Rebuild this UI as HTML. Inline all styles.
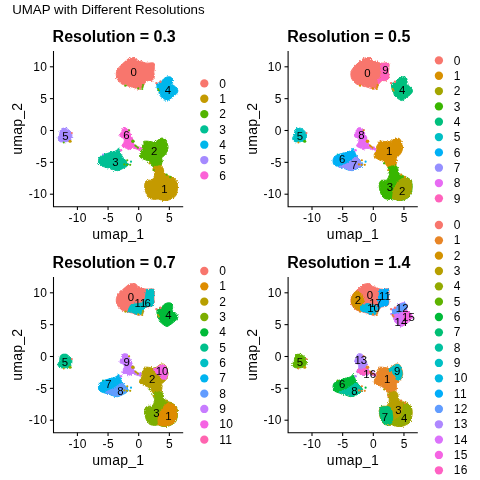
<!DOCTYPE html>
<html><head><meta charset="utf-8"><style>html,body{margin:0;padding:0;background:#fff;width:480px;height:480px;overflow:hidden}svg{display:block;will-change:transform}</style></head>
<body><svg width="480" height="480" viewBox="0 0 480 480">
<defs><filter id="rough" x="-10%" y="-10%" width="120%" height="120%"><feTurbulence type="fractalNoise" baseFrequency="1.3" numOctaves="1" seed="3" result="n"/><feDisplacementMap in="SourceGraphic" in2="n" scale="3.2" xChannelSelector="R" yChannelSelector="G"/></filter><clipPath id="c1"><path d="M350.89,73.25 C350.97,71.95 351.27,71.11 351.81,70.04 C352.34,68.97 353.26,67.83 354.10,66.83 C354.94,65.84 355.78,65.08 356.85,64.08 C357.92,63.09 359.45,61.79 360.52,60.87 C361.59,59.96 362.20,59.12 363.27,58.58 C364.33,58.05 365.79,57.79 366.93,57.67 C368.08,57.54 369.22,57.39 370.14,57.85 C371.06,58.31 371.44,59.84 372.43,60.42 C373.42,61.00 375.03,60.95 376.10,61.33 C377.17,61.71 377.78,62.40 378.85,62.71 C379.92,63.01 380.91,63.09 382.51,63.17 C384.12,63.24 387.40,62.40 388.47,63.17 C389.54,63.93 388.93,66.22 388.93,67.75 C388.93,69.28 388.47,70.96 388.47,72.33 C388.47,73.71 389.01,74.85 388.93,76.00 C388.85,77.14 388.62,78.44 388.01,79.21 C387.40,79.97 386.33,80.28 385.26,80.58 C384.19,80.89 382.59,80.58 381.60,81.04 C380.60,81.50 379.84,82.57 379.31,83.33 C378.77,84.09 378.92,84.78 378.39,85.62 C377.85,86.46 376.94,87.76 376.10,88.37 C375.26,88.98 374.26,89.29 373.35,89.29 C372.43,89.29 371.67,88.75 370.60,88.37 C369.53,87.99 368.00,87.30 366.93,87.00 C365.86,86.69 365.25,86.84 364.18,86.54 C363.11,86.23 361.74,85.55 360.52,85.16 C359.29,84.78 358.00,84.86 356.85,84.25 C355.70,83.64 354.56,82.57 353.64,81.50 C352.72,80.43 351.81,79.21 351.35,77.83 C350.89,76.46 350.82,74.55 350.89,73.25Z" stroke-width="1"/></clipPath><clipPath id="c2"><path d="M333.10,159.83 C333.24,158.65 333.66,157.75 334.35,156.92 C335.04,156.08 336.09,155.39 337.27,154.83 C338.45,154.28 340.04,154.00 341.43,153.58 C342.82,153.17 344.35,152.68 345.60,152.33 C346.85,151.99 347.89,151.92 348.93,151.50 C349.98,151.08 351.16,150.39 351.85,149.83 C352.54,149.28 352.68,148.03 353.10,148.17 C353.52,148.31 354.00,149.83 354.35,150.67 C354.70,151.50 354.84,152.33 355.18,153.17 C355.53,154.00 355.95,154.83 356.43,155.67 C356.92,156.50 357.48,157.40 358.10,158.17 C358.73,158.93 359.42,159.35 360.18,160.25 C360.95,161.15 362.34,162.68 362.68,163.58 C363.03,164.49 362.75,165.04 362.27,165.67 C361.78,166.29 360.74,166.78 359.77,167.33 C358.79,167.89 357.68,168.44 356.43,169.00 C355.18,169.56 353.52,170.46 352.27,170.67 C351.02,170.88 350.04,170.53 348.93,170.25 C347.82,169.97 346.99,169.49 345.60,169.00 C344.21,168.51 342.13,167.82 340.60,167.33 C339.07,166.85 337.61,166.64 336.43,166.08 C335.25,165.53 334.07,165.04 333.52,164.00 C332.96,162.96 332.96,161.01 333.10,159.83Z" stroke-width="1"/></clipPath><clipPath id="c3"><path d="M387.43,168.25 C387.66,167.03 389.19,166.80 390.64,166.42 C392.09,166.03 394.92,165.50 396.14,165.96 C397.36,166.42 397.59,168.02 397.97,169.17 C398.35,170.31 397.90,171.92 398.43,172.83 C398.97,173.75 400.11,174.05 401.18,174.67 C402.25,175.28 403.63,175.89 404.85,176.50 C406.07,177.11 407.44,177.57 408.51,178.33 C409.58,179.10 410.65,179.86 411.26,181.08 C411.87,182.30 412.10,183.98 412.18,185.66 C412.26,187.34 412.03,189.48 411.72,191.16 C411.42,192.84 411.19,194.52 410.35,195.75 C409.51,196.97 408.06,197.73 406.68,198.50 C405.31,199.26 403.78,200.02 402.10,200.33 C400.42,200.64 398.13,200.56 396.60,200.33 C395.07,200.10 394.15,199.11 392.93,198.96 C391.71,198.80 390.64,199.49 389.27,199.41 C387.89,199.34 385.90,199.11 384.68,198.50 C383.46,197.89 382.70,196.97 381.93,195.75 C381.17,194.52 380.56,192.84 380.10,191.16 C379.64,189.48 379.11,187.34 379.18,185.66 C379.26,183.98 379.79,182.00 380.56,181.08 C381.32,180.16 382.77,180.32 383.77,180.16 C384.76,180.01 385.75,180.62 386.52,180.16 C387.28,179.71 387.89,178.48 388.35,177.42 C388.81,176.35 389.42,175.28 389.27,173.75 C389.11,172.22 387.20,169.47 387.43,168.25Z" stroke-width="1"/></clipPath><clipPath id="c4"><path d="M116.29,299.25 C116.37,297.95 116.67,297.11 117.21,296.04 C117.74,294.97 118.66,293.83 119.50,292.83 C120.34,291.84 121.18,291.08 122.25,290.08 C123.32,289.09 124.85,287.79 125.92,286.87 C126.99,285.96 127.60,285.12 128.67,284.58 C129.73,284.05 131.19,283.79 132.33,283.67 C133.48,283.54 134.62,283.39 135.54,283.85 C136.46,284.31 136.84,285.84 137.83,286.42 C138.82,287.00 140.43,286.95 141.50,287.33 C142.57,287.71 143.18,288.40 144.25,288.71 C145.32,289.01 146.31,289.09 147.91,289.17 C149.52,289.24 152.80,288.40 153.87,289.17 C154.94,289.93 154.33,292.22 154.33,293.75 C154.33,295.28 153.87,296.96 153.87,298.33 C153.87,299.71 154.41,300.85 154.33,302.00 C154.25,303.14 154.02,304.44 153.41,305.21 C152.80,305.97 151.73,306.28 150.66,306.58 C149.59,306.89 147.99,306.58 147.00,307.04 C146.00,307.50 145.24,308.57 144.71,309.33 C144.17,310.09 144.32,310.78 143.79,311.62 C143.25,312.46 142.34,313.76 141.50,314.37 C140.66,314.98 139.66,315.29 138.75,315.29 C137.83,315.29 137.07,314.75 136.00,314.37 C134.93,313.99 133.40,313.30 132.33,313.00 C131.26,312.69 130.65,312.84 129.58,312.54 C128.51,312.23 127.14,311.55 125.92,311.16 C124.69,310.78 123.40,310.86 122.25,310.25 C121.10,309.64 119.96,308.57 119.04,307.50 C118.12,306.43 117.21,305.21 116.75,303.83 C116.29,302.46 116.22,300.55 116.29,299.25Z" stroke-width="1"/></clipPath><clipPath id="c5"><path d="M98.50,385.83 C98.64,384.65 99.06,383.75 99.75,382.92 C100.44,382.08 101.49,381.39 102.67,380.83 C103.85,380.28 105.44,380.00 106.83,379.58 C108.22,379.17 109.75,378.68 111.00,378.33 C112.25,377.99 113.29,377.92 114.33,377.50 C115.38,377.08 116.56,376.39 117.25,375.83 C117.94,375.28 118.08,374.03 118.50,374.17 C118.92,374.31 119.40,375.83 119.75,376.67 C120.10,377.50 120.24,378.33 120.58,379.17 C120.93,380.00 121.35,380.83 121.83,381.67 C122.32,382.50 122.88,383.40 123.50,384.17 C124.12,384.93 124.82,385.35 125.58,386.25 C126.35,387.15 127.74,388.68 128.08,389.58 C128.43,390.49 128.15,391.04 127.67,391.67 C127.18,392.29 126.14,392.78 125.17,393.33 C124.19,393.89 123.08,394.44 121.83,395.00 C120.58,395.56 118.92,396.46 117.67,396.67 C116.42,396.87 115.44,396.53 114.33,396.25 C113.22,395.97 112.39,395.49 111.00,395.00 C109.61,394.51 107.53,393.82 106.00,393.33 C104.47,392.85 103.01,392.64 101.83,392.08 C100.65,391.53 99.47,391.04 98.92,390.00 C98.36,388.96 98.36,387.01 98.50,385.83Z" stroke-width="1"/></clipPath><clipPath id="c6"><path d="M139.56,382.17 C139.50,381.38 139.89,380.06 140.35,379.00 C140.82,377.95 142.07,376.89 142.33,375.84 C142.60,374.78 141.67,373.72 141.94,372.67 C142.20,371.61 143.65,370.36 143.92,369.50 C144.18,368.64 143.13,367.92 143.52,367.52 C143.92,367.13 145.17,367.13 146.29,367.13 C147.41,367.13 149.06,367.39 150.25,367.52 C151.44,367.65 152.36,367.98 153.42,367.92 C154.47,367.85 155.53,367.65 156.59,367.13 C157.64,366.60 158.70,365.28 159.75,364.75 C160.81,364.22 161.93,363.83 162.92,363.96 C163.91,364.09 164.97,364.62 165.69,365.54 C166.42,366.47 166.88,368.18 167.27,369.50 C167.67,370.82 168.13,372.01 168.07,373.46 C168.00,374.91 167.47,376.89 166.88,378.21 C166.29,379.53 165.36,380.45 164.50,381.38 C163.65,382.30 162.13,382.96 161.73,383.75 C161.34,384.54 162.13,385.20 162.13,386.13 C162.13,387.05 162.00,388.11 161.73,389.30 C161.47,390.48 161.27,392.26 160.54,393.25 C159.82,394.24 158.43,395.10 157.38,395.23 C156.32,395.37 155.13,394.71 154.21,394.05 C153.29,393.39 152.56,392.20 151.84,391.27 C151.11,390.35 150.65,389.30 149.86,388.50 C149.06,387.71 148.07,387.05 147.08,386.52 C146.10,386.00 144.97,385.80 143.92,385.34 C142.86,384.87 141.48,384.28 140.75,383.75 C140.02,383.23 139.63,382.96 139.56,382.17Z" stroke-width="1"/></clipPath><clipPath id="c7"><path d="M152.83,394.25 C153.06,393.03 154.59,392.80 156.04,392.42 C157.49,392.03 160.32,391.50 161.54,391.96 C162.76,392.42 162.99,394.02 163.37,395.17 C163.75,396.31 163.30,397.92 163.83,398.83 C164.37,399.75 165.51,400.05 166.58,400.67 C167.65,401.28 169.03,401.89 170.25,402.50 C171.47,403.11 172.84,403.57 173.91,404.33 C174.98,405.10 176.05,405.86 176.66,407.08 C177.27,408.30 177.50,409.98 177.58,411.66 C177.66,413.34 177.43,415.48 177.12,417.16 C176.82,418.84 176.59,420.52 175.75,421.75 C174.91,422.97 173.46,423.73 172.08,424.50 C170.71,425.26 169.18,426.02 167.50,426.33 C165.82,426.64 163.53,426.56 162.00,426.33 C160.47,426.10 159.55,425.11 158.33,424.96 C157.11,424.80 156.04,425.49 154.67,425.41 C153.29,425.34 151.30,425.11 150.08,424.50 C148.86,423.89 148.10,422.97 147.33,421.75 C146.57,420.52 145.96,418.84 145.50,417.16 C145.04,415.48 144.51,413.34 144.58,411.66 C144.66,409.98 145.19,408.00 145.96,407.08 C146.72,406.16 148.17,406.32 149.17,406.16 C150.16,406.01 151.15,406.62 151.92,406.16 C152.68,405.71 153.29,404.48 153.75,403.42 C154.21,402.35 154.82,401.28 154.67,399.75 C154.51,398.22 152.60,395.47 152.83,394.25Z" stroke-width="1"/></clipPath><clipPath id="c8"><path d="M350.89,299.25 C350.97,297.95 351.27,297.11 351.81,296.04 C352.34,294.97 353.26,293.83 354.10,292.83 C354.94,291.84 355.78,291.08 356.85,290.08 C357.92,289.09 359.45,287.79 360.52,286.87 C361.59,285.96 362.20,285.12 363.27,284.58 C364.33,284.05 365.79,283.79 366.93,283.67 C368.08,283.54 369.22,283.39 370.14,283.85 C371.06,284.31 371.44,285.84 372.43,286.42 C373.42,287.00 375.03,286.95 376.10,287.33 C377.17,287.71 377.78,288.40 378.85,288.71 C379.92,289.01 380.91,289.09 382.51,289.17 C384.12,289.24 387.40,288.40 388.47,289.17 C389.54,289.93 388.93,292.22 388.93,293.75 C388.93,295.28 388.47,296.96 388.47,298.33 C388.47,299.71 389.01,300.85 388.93,302.00 C388.85,303.14 388.62,304.44 388.01,305.21 C387.40,305.97 386.33,306.28 385.26,306.58 C384.19,306.89 382.59,306.58 381.60,307.04 C380.60,307.50 379.84,308.57 379.31,309.33 C378.77,310.09 378.92,310.78 378.39,311.62 C377.85,312.46 376.94,313.76 376.10,314.37 C375.26,314.98 374.26,315.29 373.35,315.29 C372.43,315.29 371.67,314.75 370.60,314.37 C369.53,313.99 368.00,313.30 366.93,313.00 C365.86,312.69 365.25,312.84 364.18,312.54 C363.11,312.23 361.74,311.55 360.52,311.16 C359.29,310.78 358.00,310.86 356.85,310.25 C355.70,309.64 354.56,308.57 353.64,307.50 C352.72,306.43 351.81,305.21 351.35,303.83 C350.89,302.46 350.82,300.55 350.89,299.25Z" stroke-width="1"/></clipPath><clipPath id="c9"><path d="M391.60,310.00 C391.91,309.27 392.75,309.17 393.48,308.75 C394.20,308.33 395.30,308.02 395.98,307.50 C396.65,306.98 396.91,306.25 397.54,305.62 C398.16,305.00 398.84,304.22 399.73,303.75 C400.61,303.28 401.91,302.92 402.85,302.81 C403.79,302.71 404.67,302.76 405.35,303.12 C406.03,303.49 406.60,304.17 406.91,305.00 C407.23,305.83 407.28,307.24 407.23,308.12 C407.17,309.01 406.39,309.74 406.60,310.31 C406.81,310.89 407.85,311.09 408.48,311.56 C409.10,312.03 409.73,312.45 410.35,313.12 C410.98,313.80 411.91,314.79 412.23,315.62 C412.54,316.46 412.54,317.29 412.23,318.12 C411.91,318.96 411.08,319.90 410.35,320.62 C409.62,321.35 408.68,321.88 407.85,322.50 C407.02,323.12 406.39,323.70 405.35,324.38 C404.31,325.05 402.64,326.41 401.60,326.56 C400.56,326.72 400.04,325.89 399.10,325.31 C398.16,324.74 396.81,323.91 395.98,323.12 C395.14,322.34 394.52,321.51 394.10,320.62 C393.68,319.74 393.79,318.65 393.48,317.81 C393.16,316.98 392.54,316.41 392.23,315.62 C391.91,314.84 391.70,314.06 391.60,313.12 C391.50,312.19 391.29,310.73 391.60,310.00Z" stroke-width="1"/></clipPath><clipPath id="c10"><path d="M333.10,385.83 C333.24,384.65 333.66,383.75 334.35,382.92 C335.04,382.08 336.09,381.39 337.27,380.83 C338.45,380.28 340.04,380.00 341.43,379.58 C342.82,379.17 344.35,378.68 345.60,378.33 C346.85,377.99 347.89,377.92 348.93,377.50 C349.98,377.08 351.16,376.39 351.85,375.83 C352.54,375.28 352.68,374.03 353.10,374.17 C353.52,374.31 354.00,375.83 354.35,376.67 C354.70,377.50 354.84,378.33 355.18,379.17 C355.53,380.00 355.95,380.83 356.43,381.67 C356.92,382.50 357.48,383.40 358.10,384.17 C358.73,384.93 359.42,385.35 360.18,386.25 C360.95,387.15 362.34,388.68 362.68,389.58 C363.03,390.49 362.75,391.04 362.27,391.67 C361.78,392.29 360.74,392.78 359.77,393.33 C358.79,393.89 357.68,394.44 356.43,395.00 C355.18,395.56 353.52,396.46 352.27,396.67 C351.02,396.87 350.04,396.53 348.93,396.25 C347.82,395.97 346.99,395.49 345.60,395.00 C344.21,394.51 342.13,393.82 340.60,393.33 C339.07,392.85 337.61,392.64 336.43,392.08 C335.25,391.53 334.07,391.04 333.52,390.00 C332.96,388.96 332.96,387.01 333.10,385.83Z" stroke-width="1"/></clipPath><clipPath id="c11"><path d="M354.66,361.25 C354.77,360.52 355.24,359.64 355.60,358.75 C355.96,357.86 356.49,356.72 356.85,355.94 C357.21,355.16 357.27,354.43 357.79,354.06 C358.31,353.70 359.25,353.70 359.98,353.75 C360.70,353.80 361.59,354.01 362.16,354.38 C362.74,354.74 363.05,355.21 363.41,355.94 C363.78,356.67 363.99,357.86 364.35,358.75 C364.71,359.64 365.18,360.42 365.60,361.25 C366.02,362.08 366.54,362.92 366.85,363.75 C367.16,364.58 367.27,365.42 367.48,366.25 C367.68,367.08 367.79,367.92 368.10,368.75 C368.41,369.58 368.83,370.62 369.35,371.25 C369.87,371.88 370.39,372.19 371.23,372.50 C372.06,372.81 373.52,372.81 374.35,373.12 C375.18,373.44 376.02,373.85 376.23,374.38 C376.43,374.90 376.12,376.04 375.60,376.25 C375.08,376.46 374.04,375.89 373.10,375.62 C372.16,375.36 371.02,374.90 369.98,374.69 C368.93,374.48 367.79,374.32 366.85,374.38 C365.91,374.43 364.98,374.79 364.35,375.00 C363.73,375.21 363.62,375.73 363.10,375.62 C362.58,375.52 362.06,374.79 361.23,374.38 C360.39,373.96 358.88,373.54 358.10,373.12 C357.32,372.71 356.64,372.40 356.54,371.88 C356.43,371.35 357.11,370.62 357.48,370.00 C357.84,369.38 358.52,368.96 358.73,368.12 C358.93,367.29 359.04,365.73 358.73,365.00 C358.41,364.27 357.48,364.06 356.85,363.75 C356.23,363.44 355.34,363.54 354.98,363.12 C354.61,362.71 354.56,361.98 354.66,361.25Z" stroke-width="1"/></clipPath><clipPath id="c12"><path d="M374.16,382.17 C374.10,381.38 374.49,380.06 374.95,379.00 C375.42,377.95 376.67,376.89 376.93,375.84 C377.20,374.78 376.27,373.72 376.54,372.67 C376.80,371.61 378.25,370.36 378.52,369.50 C378.78,368.64 377.73,367.92 378.12,367.52 C378.52,367.13 379.77,367.13 380.89,367.13 C382.01,367.13 383.66,367.39 384.85,367.52 C386.04,367.65 386.96,367.98 388.02,367.92 C389.07,367.85 390.13,367.65 391.19,367.13 C392.24,366.60 393.30,365.28 394.35,364.75 C395.41,364.22 396.53,363.83 397.52,363.96 C398.51,364.09 399.57,364.62 400.29,365.54 C401.02,366.47 401.48,368.18 401.87,369.50 C402.27,370.82 402.73,372.01 402.67,373.46 C402.60,374.91 402.07,376.89 401.48,378.21 C400.89,379.53 399.96,380.45 399.10,381.38 C398.25,382.30 396.73,382.96 396.33,383.75 C395.94,384.54 396.73,385.20 396.73,386.13 C396.73,387.05 396.60,388.11 396.33,389.30 C396.07,390.48 395.87,392.26 395.14,393.25 C394.42,394.24 393.03,395.10 391.98,395.23 C390.92,395.37 389.73,394.71 388.81,394.05 C387.89,393.39 387.16,392.20 386.44,391.27 C385.71,390.35 385.25,389.30 384.46,388.50 C383.66,387.71 382.67,387.05 381.68,386.52 C380.70,386.00 379.57,385.80 378.52,385.34 C377.46,384.87 376.08,384.28 375.35,383.75 C374.62,383.23 374.23,382.96 374.16,382.17Z" stroke-width="1"/></clipPath><clipPath id="c13"><path d="M387.43,394.25 C387.66,393.03 389.19,392.80 390.64,392.42 C392.09,392.03 394.92,391.50 396.14,391.96 C397.36,392.42 397.59,394.02 397.97,395.17 C398.35,396.31 397.90,397.92 398.43,398.83 C398.97,399.75 400.11,400.05 401.18,400.67 C402.25,401.28 403.63,401.89 404.85,402.50 C406.07,403.11 407.44,403.57 408.51,404.33 C409.58,405.10 410.65,405.86 411.26,407.08 C411.87,408.30 412.10,409.98 412.18,411.66 C412.26,413.34 412.03,415.48 411.72,417.16 C411.42,418.84 411.19,420.52 410.35,421.75 C409.51,422.97 408.06,423.73 406.68,424.50 C405.31,425.26 403.78,426.02 402.10,426.33 C400.42,426.64 398.13,426.56 396.60,426.33 C395.07,426.10 394.15,425.11 392.93,424.96 C391.71,424.80 390.64,425.49 389.27,425.41 C387.89,425.34 385.90,425.11 384.68,424.50 C383.46,423.89 382.70,422.97 381.93,421.75 C381.17,420.52 380.56,418.84 380.10,417.16 C379.64,415.48 379.11,413.34 379.18,411.66 C379.26,409.98 379.79,408.00 380.56,407.08 C381.32,406.16 382.77,406.32 383.77,406.16 C384.76,406.01 385.75,406.62 386.52,406.16 C387.28,405.71 387.89,404.48 388.35,403.42 C388.81,402.35 389.42,401.28 389.27,399.75 C389.11,398.22 387.20,395.47 387.43,394.25Z" stroke-width="1"/></clipPath></defs>
<rect width="480" height="480" fill="#fff"/>
<text x="12.2" y="14.3" font-size="13.3" fill="#000" font-family="Liberation Sans, sans-serif">UMAP with Different Resolutions</text>
<path d="M53.5,51 V206.8 H183.2" fill="none" stroke="#000" stroke-width="1.07" stroke-linecap="butt"/>
<line x1="77.40" y1="206.8" x2="77.40" y2="210.0" stroke="#000" stroke-width="1.07"/>
<text x="77.60" y="221.6" text-anchor="middle" font-size="12" letter-spacing="0.33" fill="#000" font-family="Liberation Sans, sans-serif">-10</text>
<line x1="108.05" y1="206.8" x2="108.05" y2="210.0" stroke="#000" stroke-width="1.07"/>
<text x="108.25" y="221.6" text-anchor="middle" font-size="12" letter-spacing="0.33" fill="#000" font-family="Liberation Sans, sans-serif">-5</text>
<line x1="138.70" y1="206.8" x2="138.70" y2="210.0" stroke="#000" stroke-width="1.07"/>
<text x="138.90" y="221.6" text-anchor="middle" font-size="12" letter-spacing="0.33" fill="#000" font-family="Liberation Sans, sans-serif">0</text>
<line x1="169.35" y1="206.8" x2="169.35" y2="210.0" stroke="#000" stroke-width="1.07"/>
<text x="169.55" y="221.6" text-anchor="middle" font-size="12" letter-spacing="0.33" fill="#000" font-family="Liberation Sans, sans-serif">5</text>
<line x1="49.9" y1="194.20" x2="53.5" y2="194.20" stroke="#000" stroke-width="1.07"/>
<text x="47.2" y="198.40" text-anchor="end" font-size="12" letter-spacing="0.33" fill="#000" font-family="Liberation Sans, sans-serif">-10</text>
<line x1="49.9" y1="162.35" x2="53.5" y2="162.35" stroke="#000" stroke-width="1.07"/>
<text x="47.2" y="166.55" text-anchor="end" font-size="12" letter-spacing="0.33" fill="#000" font-family="Liberation Sans, sans-serif">-5</text>
<line x1="49.9" y1="130.50" x2="53.5" y2="130.50" stroke="#000" stroke-width="1.07"/>
<text x="47.2" y="134.70" text-anchor="end" font-size="12" letter-spacing="0.33" fill="#000" font-family="Liberation Sans, sans-serif">0</text>
<line x1="49.9" y1="98.65" x2="53.5" y2="98.65" stroke="#000" stroke-width="1.07"/>
<text x="47.2" y="102.85" text-anchor="end" font-size="12" letter-spacing="0.33" fill="#000" font-family="Liberation Sans, sans-serif">5</text>
<line x1="49.9" y1="66.80" x2="53.5" y2="66.80" stroke="#000" stroke-width="1.07"/>
<text x="47.2" y="71.00" text-anchor="end" font-size="12" letter-spacing="0.33" fill="#000" font-family="Liberation Sans, sans-serif">10</text>
<text x="118.3" y="238.9" text-anchor="middle" font-size="14" letter-spacing="0.25" fill="#000" font-family="Liberation Sans, sans-serif">umap_1</text>
<text transform="translate(22.2,128.7) rotate(-90)" text-anchor="middle" font-size="14" letter-spacing="0.25" fill="#000" font-family="Liberation Sans, sans-serif">umap_2</text>
<text x="52.6" y="41.9" font-size="16" font-weight="bold" fill="#000" font-family="Liberation Sans, sans-serif">Resolution = 0.3</text>
<g filter="url(#rough)">
<path d="M116.29,73.25 C116.37,71.95 116.67,71.11 117.21,70.04 C117.74,68.97 118.66,67.83 119.50,66.83 C120.34,65.84 121.18,65.08 122.25,64.08 C123.32,63.09 124.85,61.79 125.92,60.87 C126.99,59.96 127.60,59.12 128.67,58.58 C129.73,58.05 131.19,57.79 132.33,57.67 C133.48,57.54 134.62,57.39 135.54,57.85 C136.46,58.31 136.84,59.84 137.83,60.42 C138.82,61.00 140.43,60.95 141.50,61.33 C142.57,61.71 143.18,62.40 144.25,62.71 C145.32,63.01 146.31,63.09 147.91,63.17 C149.52,63.24 152.80,62.40 153.87,63.17 C154.94,63.93 154.33,66.22 154.33,67.75 C154.33,69.28 153.87,70.96 153.87,72.33 C153.87,73.71 154.41,74.85 154.33,76.00 C154.25,77.14 154.02,78.44 153.41,79.21 C152.80,79.97 151.73,80.28 150.66,80.58 C149.59,80.89 147.99,80.58 147.00,81.04 C146.00,81.50 145.24,82.57 144.71,83.33 C144.17,84.09 144.32,84.78 143.79,85.62 C143.25,86.46 142.34,87.76 141.50,88.37 C140.66,88.98 139.66,89.29 138.75,89.29 C137.83,89.29 137.07,88.75 136.00,88.37 C134.93,87.99 133.40,87.30 132.33,87.00 C131.26,86.69 130.65,86.84 129.58,86.54 C128.51,86.23 127.14,85.55 125.92,85.16 C124.69,84.78 123.40,84.86 122.25,84.25 C121.10,83.64 119.96,82.57 119.04,81.50 C118.12,80.43 117.21,79.21 116.75,77.83 C116.29,76.46 116.22,74.55 116.29,73.25Z" fill="#F8766D" stroke="#F8766D" stroke-width="1" stroke-linejoin="round"/>
<path d="M157.00,84.00 C157.31,83.27 158.15,83.17 158.88,82.75 C159.60,82.33 160.70,82.02 161.38,81.50 C162.05,80.98 162.31,80.25 162.94,79.62 C163.56,79.00 164.24,78.22 165.12,77.75 C166.01,77.28 167.31,76.92 168.25,76.81 C169.19,76.71 170.07,76.76 170.75,77.12 C171.43,77.49 172.00,78.17 172.31,79.00 C172.62,79.83 172.68,81.24 172.62,82.12 C172.57,83.01 171.79,83.74 172.00,84.31 C172.21,84.89 173.25,85.09 173.88,85.56 C174.50,86.03 175.12,86.45 175.75,87.12 C176.38,87.80 177.31,88.79 177.62,89.62 C177.94,90.46 177.94,91.29 177.62,92.12 C177.31,92.96 176.48,93.90 175.75,94.62 C175.02,95.35 174.08,95.88 173.25,96.50 C172.42,97.12 171.79,97.70 170.75,98.38 C169.71,99.05 168.04,100.41 167.00,100.56 C165.96,100.72 165.44,99.89 164.50,99.31 C163.56,98.74 162.21,97.91 161.38,97.12 C160.54,96.34 159.92,95.51 159.50,94.62 C159.08,93.74 159.19,92.65 158.88,91.81 C158.56,90.98 157.94,90.41 157.62,89.62 C157.31,88.84 157.10,88.06 157.00,87.12 C156.90,86.19 156.69,84.73 157.00,84.00Z" fill="#00B6EB" stroke="#00B6EB" stroke-width="1" stroke-linejoin="round"/>
<path d="M60.00,131.25 C60.26,130.26 60.62,129.58 61.25,129.06 C61.88,128.54 62.81,128.23 63.75,128.12 C64.69,128.02 66.04,128.12 66.88,128.44 C67.71,128.75 68.07,129.43 68.75,130.00 C69.43,130.57 70.42,131.15 70.94,131.88 C71.46,132.60 71.77,133.33 71.88,134.38 C71.98,135.42 71.88,137.08 71.56,138.12 C71.25,139.17 70.68,140.05 70.00,140.62 C69.32,141.20 68.54,141.35 67.50,141.56 C66.46,141.77 65.00,141.88 63.75,141.88 C62.50,141.88 60.94,141.98 60.00,141.56 C59.06,141.15 58.39,140.16 58.12,139.38 C57.86,138.59 58.18,137.60 58.44,136.88 C58.70,136.15 59.43,135.94 59.69,135.00 C59.95,134.06 59.74,132.24 60.00,131.25Z" fill="#A58AFF" stroke="#A58AFF" stroke-width="1" stroke-linejoin="round"/>
<path d="M98.50,159.83 C98.64,158.65 99.06,157.75 99.75,156.92 C100.44,156.08 101.49,155.39 102.67,154.83 C103.85,154.28 105.44,154.00 106.83,153.58 C108.22,153.17 109.75,152.68 111.00,152.33 C112.25,151.99 113.29,151.92 114.33,151.50 C115.38,151.08 116.56,150.39 117.25,149.83 C117.94,149.28 118.08,148.03 118.50,148.17 C118.92,148.31 119.40,149.83 119.75,150.67 C120.10,151.50 120.24,152.33 120.58,153.17 C120.93,154.00 121.35,154.83 121.83,155.67 C122.32,156.50 122.88,157.40 123.50,158.17 C124.12,158.93 124.82,159.35 125.58,160.25 C126.35,161.15 127.74,162.68 128.08,163.58 C128.43,164.49 128.15,165.04 127.67,165.67 C127.18,166.29 126.14,166.78 125.17,167.33 C124.19,167.89 123.08,168.44 121.83,169.00 C120.58,169.56 118.92,170.46 117.67,170.67 C116.42,170.88 115.44,170.53 114.33,170.25 C113.22,169.97 112.39,169.49 111.00,169.00 C109.61,168.51 107.53,167.82 106.00,167.33 C104.47,166.85 103.01,166.64 101.83,166.08 C100.65,165.53 99.47,165.04 98.92,164.00 C98.36,162.96 98.36,161.01 98.50,159.83Z" fill="#00C094" stroke="#00C094" stroke-width="1" stroke-linejoin="round"/>
<path d="M120.06,135.25 C120.17,134.52 120.64,133.64 121.00,132.75 C121.36,131.86 121.89,130.72 122.25,129.94 C122.61,129.16 122.67,128.43 123.19,128.06 C123.71,127.70 124.65,127.70 125.38,127.75 C126.10,127.80 126.99,128.01 127.56,128.38 C128.14,128.74 128.45,129.21 128.81,129.94 C129.18,130.67 129.39,131.86 129.75,132.75 C130.11,133.64 130.58,134.42 131.00,135.25 C131.42,136.08 131.94,136.92 132.25,137.75 C132.56,138.58 132.67,139.42 132.88,140.25 C133.08,141.08 133.19,141.92 133.50,142.75 C133.81,143.58 134.23,144.62 134.75,145.25 C135.27,145.88 135.79,146.19 136.62,146.50 C137.46,146.81 138.92,146.81 139.75,147.12 C140.58,147.44 141.42,147.85 141.62,148.38 C141.83,148.90 141.52,150.04 141.00,150.25 C140.48,150.46 139.44,149.89 138.50,149.62 C137.56,149.36 136.42,148.90 135.38,148.69 C134.33,148.48 133.19,148.32 132.25,148.38 C131.31,148.43 130.38,148.79 129.75,149.00 C129.12,149.21 129.02,149.73 128.50,149.62 C127.98,149.52 127.46,148.79 126.62,148.38 C125.79,147.96 124.28,147.54 123.50,147.12 C122.72,146.71 122.04,146.40 121.94,145.88 C121.83,145.35 122.51,144.62 122.88,144.00 C123.24,143.38 123.92,142.96 124.12,142.12 C124.33,141.29 124.44,139.73 124.12,139.00 C123.81,138.27 122.88,138.06 122.25,137.75 C121.62,137.44 120.74,137.54 120.38,137.12 C120.01,136.71 119.96,135.98 120.06,135.25Z" fill="#FB61D7" stroke="#FB61D7" stroke-width="1" stroke-linejoin="round"/>
<path d="M139.56,156.17 C139.50,155.38 139.89,154.06 140.35,153.00 C140.82,151.95 142.07,150.89 142.33,149.84 C142.60,148.78 141.67,147.72 141.94,146.67 C142.20,145.61 143.65,144.36 143.92,143.50 C144.18,142.64 143.13,141.92 143.52,141.52 C143.92,141.13 145.17,141.13 146.29,141.13 C147.41,141.13 149.06,141.39 150.25,141.52 C151.44,141.65 152.36,141.98 153.42,141.92 C154.47,141.85 155.53,141.65 156.59,141.13 C157.64,140.60 158.70,139.28 159.75,138.75 C160.81,138.22 161.93,137.83 162.92,137.96 C163.91,138.09 164.97,138.62 165.69,139.54 C166.42,140.47 166.88,142.18 167.27,143.50 C167.67,144.82 168.13,146.01 168.07,147.46 C168.00,148.91 167.47,150.89 166.88,152.21 C166.29,153.53 165.36,154.45 164.50,155.38 C163.65,156.30 162.13,156.96 161.73,157.75 C161.34,158.54 162.13,159.20 162.13,160.13 C162.13,161.05 162.00,162.11 161.73,163.30 C161.47,164.48 161.27,166.26 160.54,167.25 C159.82,168.24 158.43,169.10 157.38,169.23 C156.32,169.37 155.13,168.71 154.21,168.05 C153.29,167.39 152.56,166.20 151.84,165.27 C151.11,164.35 150.65,163.30 149.86,162.50 C149.06,161.71 148.07,161.05 147.08,160.52 C146.10,160.00 144.97,159.80 143.92,159.34 C142.86,158.87 141.48,158.28 140.75,157.75 C140.02,157.23 139.63,156.96 139.56,156.17Z" fill="#53B400" stroke="#53B400" stroke-width="1" stroke-linejoin="round"/>
<path d="M152.83,168.25 C153.06,167.03 154.59,166.80 156.04,166.42 C157.49,166.03 160.32,165.50 161.54,165.96 C162.76,166.42 162.99,168.02 163.37,169.17 C163.75,170.31 163.30,171.92 163.83,172.83 C164.37,173.75 165.51,174.05 166.58,174.67 C167.65,175.28 169.03,175.89 170.25,176.50 C171.47,177.11 172.84,177.57 173.91,178.33 C174.98,179.10 176.05,179.86 176.66,181.08 C177.27,182.30 177.50,183.98 177.58,185.66 C177.66,187.34 177.43,189.48 177.12,191.16 C176.82,192.84 176.59,194.52 175.75,195.75 C174.91,196.97 173.46,197.73 172.08,198.50 C170.71,199.26 169.18,200.02 167.50,200.33 C165.82,200.64 163.53,200.56 162.00,200.33 C160.47,200.10 159.55,199.11 158.33,198.96 C157.11,198.80 156.04,199.49 154.67,199.41 C153.29,199.34 151.30,199.11 150.08,198.50 C148.86,197.89 148.10,196.97 147.33,195.75 C146.57,194.52 145.96,192.84 145.50,191.16 C145.04,189.48 144.51,187.34 144.58,185.66 C144.66,183.98 145.19,182.00 145.96,181.08 C146.72,180.16 148.17,180.32 149.17,180.16 C150.16,180.01 151.15,180.62 151.92,180.16 C152.68,179.71 153.29,178.48 153.75,177.42 C154.21,176.35 154.82,175.28 154.67,173.75 C154.51,172.22 152.60,169.47 152.83,168.25Z" fill="#C49A00" stroke="#C49A00" stroke-width="1" stroke-linejoin="round"/>
</g>
<circle cx="125.50" cy="85.60" r="1.2" fill="#53B400"/>
<circle cx="138.30" cy="88.40" r="1.1" fill="#53B400"/>
<circle cx="143.00" cy="85.00" r="1.1" fill="#53B400"/>
<circle cx="142.60" cy="87.00" r="1.1" fill="#53B400"/>
<circle cx="142.20" cy="89.00" r="1.1" fill="#53B400"/>
<circle cx="156.40" cy="83.10" r="1.2" fill="#F8766D"/>
<circle cx="160.40" cy="81.80" r="1.2" fill="#F8766D"/>
<circle cx="158.00" cy="89.00" r="1" fill="#53B400"/>
<circle cx="158.90" cy="90.60" r="1" fill="#53B400"/>
<circle cx="127.25" cy="160.25" r="1.1" fill="#53B400"/>
<circle cx="124.30" cy="164.40" r="1.1" fill="#53B400"/>
<circle cx="127.00" cy="164.80" r="1.1" fill="#53B400"/>
<circle cx="130.20" cy="164.80" r="1.1" fill="#53B400"/>
<circle cx="131.00" cy="161.70" r="1.1" fill="#00C094"/>
<circle cx="103.00" cy="154.40" r="1" fill="#A58AFF"/>
<circle cx="121.00" cy="150.25" r="1.2" fill="#FB61D7"/>
<circle cx="129.10" cy="130.25" r="1.1" fill="#53B400"/>
<circle cx="132.90" cy="141.20" r="1.8" fill="#53B400"/>
<circle cx="135.40" cy="145.60" r="1.1" fill="#53B400"/>
<circle cx="136.50" cy="146.50" r="1.1" fill="#53B400"/>
<circle cx="137.90" cy="147.75" r="1.1" fill="#53B400"/>
<circle cx="149.50" cy="163.30" r="1.1" fill="#C49A00"/>
<circle cx="153.75" cy="170.00" r="1.1" fill="#53B400"/>
<circle cx="166.60" cy="174.70" r="1.1" fill="#53B400"/>
<circle cx="170.25" cy="177.00" r="1.2" fill="#53B400"/>
<circle cx="70.10" cy="141.25" r="1.6" fill="#C49A00"/>
<circle cx="63.75" cy="142.40" r="1" fill="#53B400"/>
<circle cx="71.90" cy="133.10" r="1" fill="#F8766D"/>
<text x="133.70" y="76.00" text-anchor="middle" font-size="11.4" fill="#000" font-family="Liberation Sans, sans-serif">0</text>
<text x="167.90" y="93.90" text-anchor="middle" font-size="11.4" fill="#000" font-family="Liberation Sans, sans-serif">4</text>
<text x="126.30" y="138.50" text-anchor="middle" font-size="11.4" fill="#000" font-family="Liberation Sans, sans-serif">6</text>
<text x="154.20" y="154.90" text-anchor="middle" font-size="11.4" fill="#000" font-family="Liberation Sans, sans-serif">2</text>
<text x="164.30" y="192.80" text-anchor="middle" font-size="11.4" fill="#000" font-family="Liberation Sans, sans-serif">1</text>
<text x="115.30" y="166.40" text-anchor="middle" font-size="11.4" fill="#000" font-family="Liberation Sans, sans-serif">3</text>
<text x="65.30" y="139.90" text-anchor="middle" font-size="11.4" fill="#000" font-family="Liberation Sans, sans-serif">5</text>
<circle cx="204.3" cy="83.40" r="4.15" fill="#F8766D"/>
<text x="219.20000000000002" y="87.55" font-size="12" letter-spacing="0.33" fill="#000" font-family="Liberation Sans, sans-serif">0</text>
<circle cx="204.3" cy="98.73" r="4.15" fill="#C49A00"/>
<text x="219.20000000000002" y="102.88" font-size="12" letter-spacing="0.33" fill="#000" font-family="Liberation Sans, sans-serif">1</text>
<circle cx="204.3" cy="114.06" r="4.15" fill="#53B400"/>
<text x="219.20000000000002" y="118.21" font-size="12" letter-spacing="0.33" fill="#000" font-family="Liberation Sans, sans-serif">2</text>
<circle cx="204.3" cy="129.39" r="4.15" fill="#00C094"/>
<text x="219.20000000000002" y="133.54" font-size="12" letter-spacing="0.33" fill="#000" font-family="Liberation Sans, sans-serif">3</text>
<circle cx="204.3" cy="144.72" r="4.15" fill="#00B6EB"/>
<text x="219.20000000000002" y="148.87" font-size="12" letter-spacing="0.33" fill="#000" font-family="Liberation Sans, sans-serif">4</text>
<circle cx="204.3" cy="160.05" r="4.15" fill="#A58AFF"/>
<text x="219.20000000000002" y="164.20" font-size="12" letter-spacing="0.33" fill="#000" font-family="Liberation Sans, sans-serif">5</text>
<circle cx="204.3" cy="175.38" r="4.15" fill="#FB61D7"/>
<text x="219.20000000000002" y="179.53" font-size="12" letter-spacing="0.33" fill="#000" font-family="Liberation Sans, sans-serif">6</text>
<path d="M288.1,51 V206.8 H417.79999999999995" fill="none" stroke="#000" stroke-width="1.07" stroke-linecap="butt"/>
<line x1="312.00" y1="206.8" x2="312.00" y2="210.0" stroke="#000" stroke-width="1.07"/>
<text x="312.20" y="221.6" text-anchor="middle" font-size="12" letter-spacing="0.33" fill="#000" font-family="Liberation Sans, sans-serif">-10</text>
<line x1="342.65" y1="206.8" x2="342.65" y2="210.0" stroke="#000" stroke-width="1.07"/>
<text x="342.85" y="221.6" text-anchor="middle" font-size="12" letter-spacing="0.33" fill="#000" font-family="Liberation Sans, sans-serif">-5</text>
<line x1="373.30" y1="206.8" x2="373.30" y2="210.0" stroke="#000" stroke-width="1.07"/>
<text x="373.50" y="221.6" text-anchor="middle" font-size="12" letter-spacing="0.33" fill="#000" font-family="Liberation Sans, sans-serif">0</text>
<line x1="403.95" y1="206.8" x2="403.95" y2="210.0" stroke="#000" stroke-width="1.07"/>
<text x="404.15" y="221.6" text-anchor="middle" font-size="12" letter-spacing="0.33" fill="#000" font-family="Liberation Sans, sans-serif">5</text>
<line x1="284.5" y1="194.20" x2="288.1" y2="194.20" stroke="#000" stroke-width="1.07"/>
<text x="281.8" y="198.40" text-anchor="end" font-size="12" letter-spacing="0.33" fill="#000" font-family="Liberation Sans, sans-serif">-10</text>
<line x1="284.5" y1="162.35" x2="288.1" y2="162.35" stroke="#000" stroke-width="1.07"/>
<text x="281.8" y="166.55" text-anchor="end" font-size="12" letter-spacing="0.33" fill="#000" font-family="Liberation Sans, sans-serif">-5</text>
<line x1="284.5" y1="130.50" x2="288.1" y2="130.50" stroke="#000" stroke-width="1.07"/>
<text x="281.8" y="134.70" text-anchor="end" font-size="12" letter-spacing="0.33" fill="#000" font-family="Liberation Sans, sans-serif">0</text>
<line x1="284.5" y1="98.65" x2="288.1" y2="98.65" stroke="#000" stroke-width="1.07"/>
<text x="281.8" y="102.85" text-anchor="end" font-size="12" letter-spacing="0.33" fill="#000" font-family="Liberation Sans, sans-serif">5</text>
<line x1="284.5" y1="66.80" x2="288.1" y2="66.80" stroke="#000" stroke-width="1.07"/>
<text x="281.8" y="71.00" text-anchor="end" font-size="12" letter-spacing="0.33" fill="#000" font-family="Liberation Sans, sans-serif">10</text>
<text x="352.9" y="238.9" text-anchor="middle" font-size="14" letter-spacing="0.25" fill="#000" font-family="Liberation Sans, sans-serif">umap_1</text>
<text transform="translate(256.8,128.7) rotate(-90)" text-anchor="middle" font-size="14" letter-spacing="0.25" fill="#000" font-family="Liberation Sans, sans-serif">umap_2</text>
<text x="287.2" y="41.9" font-size="16" font-weight="bold" fill="#000" font-family="Liberation Sans, sans-serif">Resolution = 0.5</text>
<g filter="url(#rough)">
<path d="M350.89,73.25 C350.97,71.95 351.27,71.11 351.81,70.04 C352.34,68.97 353.26,67.83 354.10,66.83 C354.94,65.84 355.78,65.08 356.85,64.08 C357.92,63.09 359.45,61.79 360.52,60.87 C361.59,59.96 362.20,59.12 363.27,58.58 C364.33,58.05 365.79,57.79 366.93,57.67 C368.08,57.54 369.22,57.39 370.14,57.85 C371.06,58.31 371.44,59.84 372.43,60.42 C373.42,61.00 375.03,60.95 376.10,61.33 C377.17,61.71 377.78,62.40 378.85,62.71 C379.92,63.01 380.91,63.09 382.51,63.17 C384.12,63.24 387.40,62.40 388.47,63.17 C389.54,63.93 388.93,66.22 388.93,67.75 C388.93,69.28 388.47,70.96 388.47,72.33 C388.47,73.71 389.01,74.85 388.93,76.00 C388.85,77.14 388.62,78.44 388.01,79.21 C387.40,79.97 386.33,80.28 385.26,80.58 C384.19,80.89 382.59,80.58 381.60,81.04 C380.60,81.50 379.84,82.57 379.31,83.33 C378.77,84.09 378.92,84.78 378.39,85.62 C377.85,86.46 376.94,87.76 376.10,88.37 C375.26,88.98 374.26,89.29 373.35,89.29 C372.43,89.29 371.67,88.75 370.60,88.37 C369.53,87.99 368.00,87.30 366.93,87.00 C365.86,86.69 365.25,86.84 364.18,86.54 C363.11,86.23 361.74,85.55 360.52,85.16 C359.29,84.78 358.00,84.86 356.85,84.25 C355.70,83.64 354.56,82.57 353.64,81.50 C352.72,80.43 351.81,79.21 351.35,77.83 C350.89,76.46 350.82,74.55 350.89,73.25Z" fill="#F8766D" stroke="#F8766D" stroke-width="1" stroke-linejoin="round"/>
<polygon points="380.00,60.00 395.00,60.00 395.00,90.00 378.00,90.00 377.50,80.00 380.00,76.70 380.80,71.70 380.00,65.80" fill="#FF62BC" clip-path="url(#c1)"/>
<path d="M391.60,84.00 C391.91,83.27 392.75,83.17 393.48,82.75 C394.20,82.33 395.30,82.02 395.98,81.50 C396.65,80.98 396.91,80.25 397.54,79.62 C398.16,79.00 398.84,78.22 399.73,77.75 C400.61,77.28 401.91,76.92 402.85,76.81 C403.79,76.71 404.67,76.76 405.35,77.12 C406.03,77.49 406.60,78.17 406.91,79.00 C407.23,79.83 407.28,81.24 407.23,82.12 C407.17,83.01 406.39,83.74 406.60,84.31 C406.81,84.89 407.85,85.09 408.48,85.56 C409.10,86.03 409.73,86.45 410.35,87.12 C410.98,87.80 411.91,88.79 412.23,89.62 C412.54,90.46 412.54,91.29 412.23,92.12 C411.91,92.96 411.08,93.90 410.35,94.62 C409.62,95.35 408.68,95.88 407.85,96.50 C407.02,97.12 406.39,97.70 405.35,98.38 C404.31,99.05 402.64,100.41 401.60,100.56 C400.56,100.72 400.04,99.89 399.10,99.31 C398.16,98.74 396.81,97.91 395.98,97.12 C395.14,96.34 394.52,95.51 394.10,94.62 C393.68,93.74 393.79,92.65 393.48,91.81 C393.16,90.98 392.54,90.41 392.23,89.62 C391.91,88.84 391.70,88.06 391.60,87.12 C391.50,86.19 391.29,84.73 391.60,84.00Z" fill="#00BF7D" stroke="#00BF7D" stroke-width="1" stroke-linejoin="round"/>
<path d="M294.60,131.25 C294.86,130.26 295.23,129.58 295.85,129.06 C296.48,128.54 297.41,128.23 298.35,128.12 C299.29,128.02 300.64,128.12 301.48,128.44 C302.31,128.75 302.67,129.43 303.35,130.00 C304.03,130.57 305.02,131.15 305.54,131.88 C306.06,132.60 306.37,133.33 306.48,134.38 C306.58,135.42 306.48,137.08 306.16,138.12 C305.85,139.17 305.28,140.05 304.60,140.62 C303.92,141.20 303.14,141.35 302.10,141.56 C301.06,141.77 299.60,141.88 298.35,141.88 C297.10,141.88 295.54,141.98 294.60,141.56 C293.66,141.15 292.99,140.16 292.73,139.38 C292.46,138.59 292.78,137.60 293.04,136.88 C293.30,136.15 294.03,135.94 294.29,135.00 C294.55,134.06 294.34,132.24 294.60,131.25Z" fill="#00BFC4" stroke="#00BFC4" stroke-width="1" stroke-linejoin="round"/>
<path d="M333.10,159.83 C333.24,158.65 333.66,157.75 334.35,156.92 C335.04,156.08 336.09,155.39 337.27,154.83 C338.45,154.28 340.04,154.00 341.43,153.58 C342.82,153.17 344.35,152.68 345.60,152.33 C346.85,151.99 347.89,151.92 348.93,151.50 C349.98,151.08 351.16,150.39 351.85,149.83 C352.54,149.28 352.68,148.03 353.10,148.17 C353.52,148.31 354.00,149.83 354.35,150.67 C354.70,151.50 354.84,152.33 355.18,153.17 C355.53,154.00 355.95,154.83 356.43,155.67 C356.92,156.50 357.48,157.40 358.10,158.17 C358.73,158.93 359.42,159.35 360.18,160.25 C360.95,161.15 362.34,162.68 362.68,163.58 C363.03,164.49 362.75,165.04 362.27,165.67 C361.78,166.29 360.74,166.78 359.77,167.33 C358.79,167.89 357.68,168.44 356.43,169.00 C355.18,169.56 353.52,170.46 352.27,170.67 C351.02,170.88 350.04,170.53 348.93,170.25 C347.82,169.97 346.99,169.49 345.60,169.00 C344.21,168.51 342.13,167.82 340.60,167.33 C339.07,166.85 337.61,166.64 336.43,166.08 C335.25,165.53 334.07,165.04 333.52,164.00 C332.96,162.96 332.96,161.01 333.10,159.83Z" fill="#00B0F6" stroke="#00B0F6" stroke-width="1" stroke-linejoin="round"/>
<polygon points="335.00,175.00 339.30,166.10 343.50,164.80 346.80,163.20 351.00,159.80 355.20,156.90 358.50,156.50 361.00,158.20 370.00,160.00 370.00,175.00" fill="#9590FF" clip-path="url(#c2)"/>
<path d="M354.66,135.25 C354.77,134.52 355.24,133.64 355.60,132.75 C355.96,131.86 356.49,130.72 356.85,129.94 C357.21,129.16 357.27,128.43 357.79,128.06 C358.31,127.70 359.25,127.70 359.98,127.75 C360.70,127.80 361.59,128.01 362.16,128.38 C362.74,128.74 363.05,129.21 363.41,129.94 C363.78,130.67 363.99,131.86 364.35,132.75 C364.71,133.64 365.18,134.42 365.60,135.25 C366.02,136.08 366.54,136.92 366.85,137.75 C367.16,138.58 367.27,139.42 367.48,140.25 C367.68,141.08 367.79,141.92 368.10,142.75 C368.41,143.58 368.83,144.62 369.35,145.25 C369.87,145.88 370.39,146.19 371.23,146.50 C372.06,146.81 373.52,146.81 374.35,147.12 C375.18,147.44 376.02,147.85 376.23,148.38 C376.43,148.90 376.12,150.04 375.60,150.25 C375.08,150.46 374.04,149.89 373.10,149.62 C372.16,149.36 371.02,148.90 369.98,148.69 C368.93,148.48 367.79,148.32 366.85,148.38 C365.91,148.43 364.98,148.79 364.35,149.00 C363.73,149.21 363.62,149.73 363.10,149.62 C362.58,149.52 362.06,148.79 361.23,148.38 C360.39,147.96 358.88,147.54 358.10,147.12 C357.32,146.71 356.64,146.40 356.54,145.88 C356.43,145.35 357.11,144.62 357.48,144.00 C357.84,143.38 358.52,142.96 358.73,142.12 C358.93,141.29 359.04,139.73 358.73,139.00 C358.41,138.27 357.48,138.06 356.85,137.75 C356.23,137.44 355.34,137.54 354.98,137.12 C354.61,136.71 354.56,135.98 354.66,135.25Z" fill="#E76BF3" stroke="#E76BF3" stroke-width="1" stroke-linejoin="round"/>
<path d="M374.16,156.17 C374.10,155.38 374.49,154.06 374.95,153.00 C375.42,151.95 376.67,150.89 376.93,149.84 C377.20,148.78 376.27,147.72 376.54,146.67 C376.80,145.61 378.25,144.36 378.52,143.50 C378.78,142.64 377.73,141.92 378.12,141.52 C378.52,141.13 379.77,141.13 380.89,141.13 C382.01,141.13 383.66,141.39 384.85,141.52 C386.04,141.65 386.96,141.98 388.02,141.92 C389.07,141.85 390.13,141.65 391.19,141.13 C392.24,140.60 393.30,139.28 394.35,138.75 C395.41,138.22 396.53,137.83 397.52,137.96 C398.51,138.09 399.57,138.62 400.29,139.54 C401.02,140.47 401.48,142.18 401.87,143.50 C402.27,144.82 402.73,146.01 402.67,147.46 C402.60,148.91 402.07,150.89 401.48,152.21 C400.89,153.53 399.96,154.45 399.10,155.38 C398.25,156.30 396.73,156.96 396.33,157.75 C395.94,158.54 396.73,159.20 396.73,160.13 C396.73,161.05 396.60,162.11 396.33,163.30 C396.07,164.48 395.87,166.26 395.14,167.25 C394.42,168.24 393.03,169.10 391.98,169.23 C390.92,169.37 389.73,168.71 388.81,168.05 C387.89,167.39 387.16,166.20 386.44,165.27 C385.71,164.35 385.25,163.30 384.46,162.50 C383.66,161.71 382.67,161.05 381.68,160.52 C380.70,160.00 379.57,159.80 378.52,159.34 C377.46,158.87 376.08,158.28 375.35,157.75 C374.62,157.23 374.23,156.96 374.16,156.17Z" fill="#D89000" stroke="#D89000" stroke-width="1" stroke-linejoin="round"/>
<path d="M387.43,168.25 C387.66,167.03 389.19,166.80 390.64,166.42 C392.09,166.03 394.92,165.50 396.14,165.96 C397.36,166.42 397.59,168.02 397.97,169.17 C398.35,170.31 397.90,171.92 398.43,172.83 C398.97,173.75 400.11,174.05 401.18,174.67 C402.25,175.28 403.63,175.89 404.85,176.50 C406.07,177.11 407.44,177.57 408.51,178.33 C409.58,179.10 410.65,179.86 411.26,181.08 C411.87,182.30 412.10,183.98 412.18,185.66 C412.26,187.34 412.03,189.48 411.72,191.16 C411.42,192.84 411.19,194.52 410.35,195.75 C409.51,196.97 408.06,197.73 406.68,198.50 C405.31,199.26 403.78,200.02 402.10,200.33 C400.42,200.64 398.13,200.56 396.60,200.33 C395.07,200.10 394.15,199.11 392.93,198.96 C391.71,198.80 390.64,199.49 389.27,199.41 C387.89,199.34 385.90,199.11 384.68,198.50 C383.46,197.89 382.70,196.97 381.93,195.75 C381.17,194.52 380.56,192.84 380.10,191.16 C379.64,189.48 379.11,187.34 379.18,185.66 C379.26,183.98 379.79,182.00 380.56,181.08 C381.32,180.16 382.77,180.32 383.77,180.16 C384.76,180.01 385.75,180.62 386.52,180.16 C387.28,179.71 387.89,178.48 388.35,177.42 C388.81,176.35 389.42,175.28 389.27,173.75 C389.11,172.22 387.20,169.47 387.43,168.25Z" fill="#39B600" stroke="#39B600" stroke-width="1" stroke-linejoin="round"/>
<polygon points="390.00,205.00 392.00,198.50 392.40,193.90 393.30,189.30 395.60,184.75 398.40,180.60 401.60,178.30 405.25,177.00 408.90,177.40 420.00,178.00 420.00,205.00" fill="#A3A500" clip-path="url(#c3)"/>
</g>
<circle cx="360.10" cy="85.60" r="1.2" fill="#D89000"/>
<circle cx="372.90" cy="88.40" r="1.1" fill="#D89000"/>
<circle cx="377.60" cy="85.00" r="1.1" fill="#D89000"/>
<circle cx="377.20" cy="87.00" r="1.1" fill="#D89000"/>
<circle cx="376.80" cy="89.00" r="1.1" fill="#D89000"/>
<circle cx="391.00" cy="83.10" r="1.2" fill="#F8766D"/>
<circle cx="395.00" cy="81.80" r="1.2" fill="#F8766D"/>
<circle cx="392.60" cy="89.00" r="1" fill="#D89000"/>
<circle cx="393.50" cy="90.60" r="1" fill="#D89000"/>
<circle cx="361.85" cy="160.25" r="1.1" fill="#D89000"/>
<circle cx="358.90" cy="164.40" r="1.1" fill="#D89000"/>
<circle cx="361.60" cy="164.80" r="1.1" fill="#D89000"/>
<circle cx="364.80" cy="164.80" r="1.1" fill="#D89000"/>
<circle cx="365.60" cy="161.70" r="1.1" fill="#00B0F6"/>
<circle cx="337.60" cy="154.40" r="1" fill="#00BFC4"/>
<circle cx="355.60" cy="150.25" r="1.2" fill="#E76BF3"/>
<circle cx="363.70" cy="130.25" r="1.1" fill="#D89000"/>
<circle cx="367.50" cy="141.20" r="1.8" fill="#D89000"/>
<circle cx="370.00" cy="145.60" r="1.1" fill="#D89000"/>
<circle cx="371.10" cy="146.50" r="1.1" fill="#D89000"/>
<circle cx="372.50" cy="147.75" r="1.1" fill="#D89000"/>
<circle cx="384.10" cy="163.30" r="1.1" fill="#39B600"/>
<circle cx="388.35" cy="170.00" r="1.1" fill="#D89000"/>
<circle cx="401.20" cy="174.70" r="1.1" fill="#D89000"/>
<circle cx="404.85" cy="177.00" r="1.2" fill="#D89000"/>
<circle cx="304.70" cy="141.25" r="1.6" fill="#39B600"/>
<circle cx="298.35" cy="142.40" r="1" fill="#D89000"/>
<circle cx="306.50" cy="133.10" r="1" fill="#F8766D"/>
<text x="367.50" y="76.90" text-anchor="middle" font-size="11.4" fill="#000" font-family="Liberation Sans, sans-serif">0</text>
<text x="385.40" y="74.30" text-anchor="middle" font-size="11.4" fill="#000" font-family="Liberation Sans, sans-serif">9</text>
<text x="402.20" y="93.90" text-anchor="middle" font-size="11.4" fill="#000" font-family="Liberation Sans, sans-serif">4</text>
<text x="361.30" y="139.00" text-anchor="middle" font-size="11.4" fill="#000" font-family="Liberation Sans, sans-serif">8</text>
<text x="389.20" y="154.70" text-anchor="middle" font-size="11.4" fill="#000" font-family="Liberation Sans, sans-serif">1</text>
<text x="390.00" y="190.90" text-anchor="middle" font-size="11.4" fill="#000" font-family="Liberation Sans, sans-serif">3</text>
<text x="402.20" y="195.10" text-anchor="middle" font-size="11.4" fill="#000" font-family="Liberation Sans, sans-serif">2</text>
<text x="342.20" y="163.10" text-anchor="middle" font-size="11.4" fill="#000" font-family="Liberation Sans, sans-serif">6</text>
<text x="354.20" y="169.20" text-anchor="middle" font-size="11.4" fill="#000" font-family="Liberation Sans, sans-serif">7</text>
<text x="300.00" y="140.20" text-anchor="middle" font-size="11.4" fill="#000" font-family="Liberation Sans, sans-serif">5</text>
<circle cx="438.9" cy="60.40" r="4.15" fill="#F8766D"/>
<text x="453.79999999999995" y="64.55" font-size="12" letter-spacing="0.33" fill="#000" font-family="Liberation Sans, sans-serif">0</text>
<circle cx="438.9" cy="75.73" r="4.15" fill="#D89000"/>
<text x="453.79999999999995" y="79.88" font-size="12" letter-spacing="0.33" fill="#000" font-family="Liberation Sans, sans-serif">1</text>
<circle cx="438.9" cy="91.06" r="4.15" fill="#A3A500"/>
<text x="453.79999999999995" y="95.21" font-size="12" letter-spacing="0.33" fill="#000" font-family="Liberation Sans, sans-serif">2</text>
<circle cx="438.9" cy="106.39" r="4.15" fill="#39B600"/>
<text x="453.79999999999995" y="110.54" font-size="12" letter-spacing="0.33" fill="#000" font-family="Liberation Sans, sans-serif">3</text>
<circle cx="438.9" cy="121.72" r="4.15" fill="#00BF7D"/>
<text x="453.79999999999995" y="125.87" font-size="12" letter-spacing="0.33" fill="#000" font-family="Liberation Sans, sans-serif">4</text>
<circle cx="438.9" cy="137.05" r="4.15" fill="#00BFC4"/>
<text x="453.79999999999995" y="141.20" font-size="12" letter-spacing="0.33" fill="#000" font-family="Liberation Sans, sans-serif">5</text>
<circle cx="438.9" cy="152.38" r="4.15" fill="#00B0F6"/>
<text x="453.79999999999995" y="156.53" font-size="12" letter-spacing="0.33" fill="#000" font-family="Liberation Sans, sans-serif">6</text>
<circle cx="438.9" cy="167.71" r="4.15" fill="#9590FF"/>
<text x="453.79999999999995" y="171.86" font-size="12" letter-spacing="0.33" fill="#000" font-family="Liberation Sans, sans-serif">7</text>
<circle cx="438.9" cy="183.04" r="4.15" fill="#E76BF3"/>
<text x="453.79999999999995" y="187.19" font-size="12" letter-spacing="0.33" fill="#000" font-family="Liberation Sans, sans-serif">8</text>
<circle cx="438.9" cy="198.37" r="4.15" fill="#FF62BC"/>
<text x="453.79999999999995" y="202.52" font-size="12" letter-spacing="0.33" fill="#000" font-family="Liberation Sans, sans-serif">9</text>
<path d="M53.5,277 V432.8 H183.2" fill="none" stroke="#000" stroke-width="1.07" stroke-linecap="butt"/>
<line x1="77.40" y1="432.8" x2="77.40" y2="436.0" stroke="#000" stroke-width="1.07"/>
<text x="77.60" y="447.6" text-anchor="middle" font-size="12" letter-spacing="0.33" fill="#000" font-family="Liberation Sans, sans-serif">-10</text>
<line x1="108.05" y1="432.8" x2="108.05" y2="436.0" stroke="#000" stroke-width="1.07"/>
<text x="108.25" y="447.6" text-anchor="middle" font-size="12" letter-spacing="0.33" fill="#000" font-family="Liberation Sans, sans-serif">-5</text>
<line x1="138.70" y1="432.8" x2="138.70" y2="436.0" stroke="#000" stroke-width="1.07"/>
<text x="138.90" y="447.6" text-anchor="middle" font-size="12" letter-spacing="0.33" fill="#000" font-family="Liberation Sans, sans-serif">0</text>
<line x1="169.35" y1="432.8" x2="169.35" y2="436.0" stroke="#000" stroke-width="1.07"/>
<text x="169.55" y="447.6" text-anchor="middle" font-size="12" letter-spacing="0.33" fill="#000" font-family="Liberation Sans, sans-serif">5</text>
<line x1="49.9" y1="420.20" x2="53.5" y2="420.20" stroke="#000" stroke-width="1.07"/>
<text x="47.2" y="424.40" text-anchor="end" font-size="12" letter-spacing="0.33" fill="#000" font-family="Liberation Sans, sans-serif">-10</text>
<line x1="49.9" y1="388.35" x2="53.5" y2="388.35" stroke="#000" stroke-width="1.07"/>
<text x="47.2" y="392.55" text-anchor="end" font-size="12" letter-spacing="0.33" fill="#000" font-family="Liberation Sans, sans-serif">-5</text>
<line x1="49.9" y1="356.50" x2="53.5" y2="356.50" stroke="#000" stroke-width="1.07"/>
<text x="47.2" y="360.70" text-anchor="end" font-size="12" letter-spacing="0.33" fill="#000" font-family="Liberation Sans, sans-serif">0</text>
<line x1="49.9" y1="324.65" x2="53.5" y2="324.65" stroke="#000" stroke-width="1.07"/>
<text x="47.2" y="328.85" text-anchor="end" font-size="12" letter-spacing="0.33" fill="#000" font-family="Liberation Sans, sans-serif">5</text>
<line x1="49.9" y1="292.80" x2="53.5" y2="292.80" stroke="#000" stroke-width="1.07"/>
<text x="47.2" y="297.00" text-anchor="end" font-size="12" letter-spacing="0.33" fill="#000" font-family="Liberation Sans, sans-serif">10</text>
<text x="118.3" y="464.9" text-anchor="middle" font-size="14" letter-spacing="0.25" fill="#000" font-family="Liberation Sans, sans-serif">umap_1</text>
<text transform="translate(22.2,354.7) rotate(-90)" text-anchor="middle" font-size="14" letter-spacing="0.25" fill="#000" font-family="Liberation Sans, sans-serif">umap_2</text>
<text x="52.6" y="267.9" font-size="16" font-weight="bold" fill="#000" font-family="Liberation Sans, sans-serif">Resolution = 0.7</text>
<g filter="url(#rough)">
<path d="M116.29,299.25 C116.37,297.95 116.67,297.11 117.21,296.04 C117.74,294.97 118.66,293.83 119.50,292.83 C120.34,291.84 121.18,291.08 122.25,290.08 C123.32,289.09 124.85,287.79 125.92,286.87 C126.99,285.96 127.60,285.12 128.67,284.58 C129.73,284.05 131.19,283.79 132.33,283.67 C133.48,283.54 134.62,283.39 135.54,283.85 C136.46,284.31 136.84,285.84 137.83,286.42 C138.82,287.00 140.43,286.95 141.50,287.33 C142.57,287.71 143.18,288.40 144.25,288.71 C145.32,289.01 146.31,289.09 147.91,289.17 C149.52,289.24 152.80,288.40 153.87,289.17 C154.94,289.93 154.33,292.22 154.33,293.75 C154.33,295.28 153.87,296.96 153.87,298.33 C153.87,299.71 154.41,300.85 154.33,302.00 C154.25,303.14 154.02,304.44 153.41,305.21 C152.80,305.97 151.73,306.28 150.66,306.58 C149.59,306.89 147.99,306.58 147.00,307.04 C146.00,307.50 145.24,308.57 144.71,309.33 C144.17,310.09 144.32,310.78 143.79,311.62 C143.25,312.46 142.34,313.76 141.50,314.37 C140.66,314.98 139.66,315.29 138.75,315.29 C137.83,315.29 137.07,314.75 136.00,314.37 C134.93,313.99 133.40,313.30 132.33,313.00 C131.26,312.69 130.65,312.84 129.58,312.54 C128.51,312.23 127.14,311.55 125.92,311.16 C124.69,310.78 123.40,310.86 122.25,310.25 C121.10,309.64 119.96,308.57 119.04,307.50 C118.12,306.43 117.21,305.21 116.75,303.83 C116.29,302.46 116.22,300.55 116.29,299.25Z" fill="#F8766D" stroke="#F8766D" stroke-width="1" stroke-linejoin="round"/>
<polygon points="146.00,280.00 145.80,291.00 145.00,296.00 144.20,301.00 140.00,302.70 134.20,303.50 130.00,305.20 128.30,308.50 125.00,320.00 165.00,320.00 165.00,280.00" fill="#00BFC4" clip-path="url(#c4)"/>
<path d="M157.00,310.00 C157.31,309.27 158.15,309.17 158.88,308.75 C159.60,308.33 160.70,308.02 161.38,307.50 C162.05,306.98 162.31,306.25 162.94,305.62 C163.56,305.00 164.24,304.22 165.12,303.75 C166.01,303.28 167.31,302.92 168.25,302.81 C169.19,302.71 170.07,302.76 170.75,303.12 C171.43,303.49 172.00,304.17 172.31,305.00 C172.62,305.83 172.68,307.24 172.62,308.12 C172.57,309.01 171.79,309.74 172.00,310.31 C172.21,310.89 173.25,311.09 173.88,311.56 C174.50,312.03 175.12,312.45 175.75,313.12 C176.38,313.80 177.31,314.79 177.62,315.62 C177.94,316.46 177.94,317.29 177.62,318.12 C177.31,318.96 176.48,319.90 175.75,320.62 C175.02,321.35 174.08,321.88 173.25,322.50 C172.42,323.12 171.79,323.70 170.75,324.38 C169.71,325.05 168.04,326.41 167.00,326.56 C165.96,326.72 165.44,325.89 164.50,325.31 C163.56,324.74 162.21,323.91 161.38,323.12 C160.54,322.34 159.92,321.51 159.50,320.62 C159.08,319.74 159.19,318.65 158.88,317.81 C158.56,316.98 157.94,316.41 157.62,315.62 C157.31,314.84 157.10,314.06 157.00,313.12 C156.90,312.19 156.69,310.73 157.00,310.00Z" fill="#00BA38" stroke="#00BA38" stroke-width="1" stroke-linejoin="round"/>
<path d="M60.00,357.25 C60.26,356.26 60.62,355.58 61.25,355.06 C61.88,354.54 62.81,354.23 63.75,354.12 C64.69,354.02 66.04,354.12 66.88,354.44 C67.71,354.75 68.07,355.43 68.75,356.00 C69.43,356.57 70.42,357.15 70.94,357.88 C71.46,358.60 71.77,359.33 71.88,360.38 C71.98,361.42 71.88,363.08 71.56,364.12 C71.25,365.17 70.68,366.05 70.00,366.62 C69.32,367.20 68.54,367.35 67.50,367.56 C66.46,367.77 65.00,367.88 63.75,367.88 C62.50,367.88 60.94,367.98 60.00,367.56 C59.06,367.15 58.39,366.16 58.12,365.38 C57.86,364.59 58.18,363.60 58.44,362.88 C58.70,362.15 59.43,361.94 59.69,361.00 C59.95,360.06 59.74,358.24 60.00,357.25Z" fill="#00C08B" stroke="#00C08B" stroke-width="1" stroke-linejoin="round"/>
<path d="M98.50,385.83 C98.64,384.65 99.06,383.75 99.75,382.92 C100.44,382.08 101.49,381.39 102.67,380.83 C103.85,380.28 105.44,380.00 106.83,379.58 C108.22,379.17 109.75,378.68 111.00,378.33 C112.25,377.99 113.29,377.92 114.33,377.50 C115.38,377.08 116.56,376.39 117.25,375.83 C117.94,375.28 118.08,374.03 118.50,374.17 C118.92,374.31 119.40,375.83 119.75,376.67 C120.10,377.50 120.24,378.33 120.58,379.17 C120.93,380.00 121.35,380.83 121.83,381.67 C122.32,382.50 122.88,383.40 123.50,384.17 C124.12,384.93 124.82,385.35 125.58,386.25 C126.35,387.15 127.74,388.68 128.08,389.58 C128.43,390.49 128.15,391.04 127.67,391.67 C127.18,392.29 126.14,392.78 125.17,393.33 C124.19,393.89 123.08,394.44 121.83,395.00 C120.58,395.56 118.92,396.46 117.67,396.67 C116.42,396.87 115.44,396.53 114.33,396.25 C113.22,395.97 112.39,395.49 111.00,395.00 C109.61,394.51 107.53,393.82 106.00,393.33 C104.47,392.85 103.01,392.64 101.83,392.08 C100.65,391.53 99.47,391.04 98.92,390.00 C98.36,388.96 98.36,387.01 98.50,385.83Z" fill="#00B4F0" stroke="#00B4F0" stroke-width="1" stroke-linejoin="round"/>
<polygon points="100.00,400.00 106.00,391.25 112.70,388.30 116.80,385.80 121.00,382.50 123.90,383.30 135.00,385.00 135.00,400.00" fill="#619CFF" clip-path="url(#c5)"/>
<path d="M120.06,361.25 C120.17,360.52 120.64,359.64 121.00,358.75 C121.36,357.86 121.89,356.72 122.25,355.94 C122.61,355.16 122.67,354.43 123.19,354.06 C123.71,353.70 124.65,353.70 125.38,353.75 C126.10,353.80 126.99,354.01 127.56,354.38 C128.14,354.74 128.45,355.21 128.81,355.94 C129.18,356.67 129.39,357.86 129.75,358.75 C130.11,359.64 130.58,360.42 131.00,361.25 C131.42,362.08 131.94,362.92 132.25,363.75 C132.56,364.58 132.67,365.42 132.88,366.25 C133.08,367.08 133.19,367.92 133.50,368.75 C133.81,369.58 134.23,370.62 134.75,371.25 C135.27,371.88 135.79,372.19 136.62,372.50 C137.46,372.81 138.92,372.81 139.75,373.12 C140.58,373.44 141.42,373.85 141.62,374.38 C141.83,374.90 141.52,376.04 141.00,376.25 C140.48,376.46 139.44,375.89 138.50,375.62 C137.56,375.36 136.42,374.90 135.38,374.69 C134.33,374.48 133.19,374.32 132.25,374.38 C131.31,374.43 130.38,374.79 129.75,375.00 C129.12,375.21 129.02,375.73 128.50,375.62 C127.98,375.52 127.46,374.79 126.62,374.38 C125.79,373.96 124.28,373.54 123.50,373.12 C122.72,372.71 122.04,372.40 121.94,371.88 C121.83,371.35 122.51,370.62 122.88,370.00 C123.24,369.38 123.92,368.96 124.12,368.12 C124.33,367.29 124.44,365.73 124.12,365.00 C123.81,364.27 122.88,364.06 122.25,363.75 C121.62,363.44 120.74,363.54 120.38,363.12 C120.01,362.71 119.96,361.98 120.06,361.25Z" fill="#C77CFF" stroke="#C77CFF" stroke-width="1" stroke-linejoin="round"/>
<path d="M139.56,382.17 C139.50,381.38 139.89,380.06 140.35,379.00 C140.82,377.95 142.07,376.89 142.33,375.84 C142.60,374.78 141.67,373.72 141.94,372.67 C142.20,371.61 143.65,370.36 143.92,369.50 C144.18,368.64 143.13,367.92 143.52,367.52 C143.92,367.13 145.17,367.13 146.29,367.13 C147.41,367.13 149.06,367.39 150.25,367.52 C151.44,367.65 152.36,367.98 153.42,367.92 C154.47,367.85 155.53,367.65 156.59,367.13 C157.64,366.60 158.70,365.28 159.75,364.75 C160.81,364.22 161.93,363.83 162.92,363.96 C163.91,364.09 164.97,364.62 165.69,365.54 C166.42,366.47 166.88,368.18 167.27,369.50 C167.67,370.82 168.13,372.01 168.07,373.46 C168.00,374.91 167.47,376.89 166.88,378.21 C166.29,379.53 165.36,380.45 164.50,381.38 C163.65,382.30 162.13,382.96 161.73,383.75 C161.34,384.54 162.13,385.20 162.13,386.13 C162.13,387.05 162.00,388.11 161.73,389.30 C161.47,390.48 161.27,392.26 160.54,393.25 C159.82,394.24 158.43,395.10 157.38,395.23 C156.32,395.37 155.13,394.71 154.21,394.05 C153.29,393.39 152.56,392.20 151.84,391.27 C151.11,390.35 150.65,389.30 149.86,388.50 C149.06,387.71 148.07,387.05 147.08,386.52 C146.10,386.00 144.97,385.80 143.92,385.34 C142.86,384.87 141.48,384.28 140.75,383.75 C140.02,383.23 139.63,382.96 139.56,382.17Z" fill="#B79F00" stroke="#B79F00" stroke-width="1" stroke-linejoin="round"/>
<polygon points="159.00,362.00 175.00,362.00 175.00,385.00 164.10,379.80 161.70,379.40 159.75,376.20 157.00,374.25 154.60,371.90 153.00,369.50 155.00,367.90 157.40,365.90 159.00,364.50" fill="#F564E3" clip-path="url(#c6)"/>
<path d="M152.83,394.25 C153.06,393.03 154.59,392.80 156.04,392.42 C157.49,392.03 160.32,391.50 161.54,391.96 C162.76,392.42 162.99,394.02 163.37,395.17 C163.75,396.31 163.30,397.92 163.83,398.83 C164.37,399.75 165.51,400.05 166.58,400.67 C167.65,401.28 169.03,401.89 170.25,402.50 C171.47,403.11 172.84,403.57 173.91,404.33 C174.98,405.10 176.05,405.86 176.66,407.08 C177.27,408.30 177.50,409.98 177.58,411.66 C177.66,413.34 177.43,415.48 177.12,417.16 C176.82,418.84 176.59,420.52 175.75,421.75 C174.91,422.97 173.46,423.73 172.08,424.50 C170.71,425.26 169.18,426.02 167.50,426.33 C165.82,426.64 163.53,426.56 162.00,426.33 C160.47,426.10 159.55,425.11 158.33,424.96 C157.11,424.80 156.04,425.49 154.67,425.41 C153.29,425.34 151.30,425.11 150.08,424.50 C148.86,423.89 148.10,422.97 147.33,421.75 C146.57,420.52 145.96,418.84 145.50,417.16 C145.04,415.48 144.51,413.34 144.58,411.66 C144.66,409.98 145.19,408.00 145.96,407.08 C146.72,406.16 148.17,406.32 149.17,406.16 C150.16,406.01 151.15,406.62 151.92,406.16 C152.68,405.71 153.29,404.48 153.75,403.42 C154.21,402.35 154.82,401.28 154.67,399.75 C154.51,398.22 152.60,395.47 152.83,394.25Z" fill="#7CAE00" stroke="#7CAE00" stroke-width="1" stroke-linejoin="round"/>
<polygon points="155.00,432.00 158.30,426.30 157.40,420.80 158.30,415.30 160.60,410.30 163.40,406.20 166.60,403.40 169.30,401.60 172.10,402.00 174.80,403.40 185.00,405.00 185.00,432.00" fill="#DE8C00" clip-path="url(#c7)"/>
</g>
<circle cx="125.50" cy="311.60" r="1.2" fill="#B79F00"/>
<circle cx="138.30" cy="314.40" r="1.1" fill="#B79F00"/>
<circle cx="143.00" cy="311.00" r="1.1" fill="#B79F00"/>
<circle cx="142.60" cy="313.00" r="1.1" fill="#B79F00"/>
<circle cx="142.20" cy="315.00" r="1.1" fill="#B79F00"/>
<circle cx="156.40" cy="309.10" r="1.2" fill="#F8766D"/>
<circle cx="160.40" cy="307.80" r="1.2" fill="#F8766D"/>
<circle cx="158.00" cy="315.00" r="1" fill="#B79F00"/>
<circle cx="158.90" cy="316.60" r="1" fill="#B79F00"/>
<circle cx="127.25" cy="386.25" r="1.1" fill="#B79F00"/>
<circle cx="124.30" cy="390.40" r="1.1" fill="#B79F00"/>
<circle cx="127.00" cy="390.80" r="1.1" fill="#B79F00"/>
<circle cx="130.20" cy="390.80" r="1.1" fill="#B79F00"/>
<circle cx="131.00" cy="387.70" r="1.1" fill="#00B4F0"/>
<circle cx="103.00" cy="380.40" r="1" fill="#00C08B"/>
<circle cx="121.00" cy="376.25" r="1.2" fill="#C77CFF"/>
<circle cx="129.10" cy="356.25" r="1.1" fill="#B79F00"/>
<circle cx="132.90" cy="367.20" r="1.8" fill="#B79F00"/>
<circle cx="135.40" cy="371.60" r="1.1" fill="#B79F00"/>
<circle cx="136.50" cy="372.50" r="1.1" fill="#B79F00"/>
<circle cx="137.90" cy="373.75" r="1.1" fill="#B79F00"/>
<circle cx="149.50" cy="389.30" r="1.1" fill="#7CAE00"/>
<circle cx="153.75" cy="396.00" r="1.1" fill="#B79F00"/>
<circle cx="166.60" cy="400.70" r="1.1" fill="#B79F00"/>
<circle cx="170.25" cy="403.00" r="1.2" fill="#B79F00"/>
<circle cx="70.10" cy="367.25" r="1.6" fill="#7CAE00"/>
<circle cx="63.75" cy="368.40" r="1" fill="#B79F00"/>
<circle cx="71.90" cy="359.10" r="1" fill="#F8766D"/>
<text x="130.80" y="301.10" text-anchor="middle" font-size="11.4" fill="#000" font-family="Liberation Sans, sans-serif">0</text>
<text x="140.40" y="306.90" text-anchor="middle" font-size="11.4" fill="#000" font-family="Liberation Sans, sans-serif">11</text>
<text x="147.60" y="306.90" text-anchor="middle" font-size="11.4" fill="#000" font-family="Liberation Sans, sans-serif">6</text>
<text x="168.30" y="319.10" text-anchor="middle" font-size="11.4" fill="#000" font-family="Liberation Sans, sans-serif">4</text>
<text x="126.70" y="366.20" text-anchor="middle" font-size="11.4" fill="#000" font-family="Liberation Sans, sans-serif">9</text>
<text x="162.10" y="375.00" text-anchor="middle" font-size="11.4" fill="#000" font-family="Liberation Sans, sans-serif">10</text>
<text x="152.20" y="383.00" text-anchor="middle" font-size="11.4" fill="#000" font-family="Liberation Sans, sans-serif">2</text>
<text x="156.50" y="416.90" text-anchor="middle" font-size="11.4" fill="#000" font-family="Liberation Sans, sans-serif">3</text>
<text x="168.40" y="419.70" text-anchor="middle" font-size="11.4" fill="#000" font-family="Liberation Sans, sans-serif">1</text>
<text x="65.00" y="366.20" text-anchor="middle" font-size="11.4" fill="#000" font-family="Liberation Sans, sans-serif">5</text>
<text x="108.30" y="387.60" text-anchor="middle" font-size="11.4" fill="#000" font-family="Liberation Sans, sans-serif">7</text>
<text x="120.40" y="394.80" text-anchor="middle" font-size="11.4" fill="#000" font-family="Liberation Sans, sans-serif">8</text>
<circle cx="204.3" cy="271.00" r="4.15" fill="#F8766D"/>
<text x="219.20000000000002" y="275.15" font-size="12" letter-spacing="0.33" fill="#000" font-family="Liberation Sans, sans-serif">0</text>
<circle cx="204.3" cy="286.33" r="4.15" fill="#DE8C00"/>
<text x="219.20000000000002" y="290.48" font-size="12" letter-spacing="0.33" fill="#000" font-family="Liberation Sans, sans-serif">1</text>
<circle cx="204.3" cy="301.66" r="4.15" fill="#B79F00"/>
<text x="219.20000000000002" y="305.81" font-size="12" letter-spacing="0.33" fill="#000" font-family="Liberation Sans, sans-serif">2</text>
<circle cx="204.3" cy="316.99" r="4.15" fill="#7CAE00"/>
<text x="219.20000000000002" y="321.14" font-size="12" letter-spacing="0.33" fill="#000" font-family="Liberation Sans, sans-serif">3</text>
<circle cx="204.3" cy="332.32" r="4.15" fill="#00BA38"/>
<text x="219.20000000000002" y="336.47" font-size="12" letter-spacing="0.33" fill="#000" font-family="Liberation Sans, sans-serif">4</text>
<circle cx="204.3" cy="347.65" r="4.15" fill="#00C08B"/>
<text x="219.20000000000002" y="351.80" font-size="12" letter-spacing="0.33" fill="#000" font-family="Liberation Sans, sans-serif">5</text>
<circle cx="204.3" cy="362.98" r="4.15" fill="#00BFC4"/>
<text x="219.20000000000002" y="367.13" font-size="12" letter-spacing="0.33" fill="#000" font-family="Liberation Sans, sans-serif">6</text>
<circle cx="204.3" cy="378.31" r="4.15" fill="#00B4F0"/>
<text x="219.20000000000002" y="382.46" font-size="12" letter-spacing="0.33" fill="#000" font-family="Liberation Sans, sans-serif">7</text>
<circle cx="204.3" cy="393.64" r="4.15" fill="#619CFF"/>
<text x="219.20000000000002" y="397.79" font-size="12" letter-spacing="0.33" fill="#000" font-family="Liberation Sans, sans-serif">8</text>
<circle cx="204.3" cy="408.97" r="4.15" fill="#C77CFF"/>
<text x="219.20000000000002" y="413.12" font-size="12" letter-spacing="0.33" fill="#000" font-family="Liberation Sans, sans-serif">9</text>
<circle cx="204.3" cy="424.30" r="4.15" fill="#F564E3"/>
<text x="219.20000000000002" y="428.45" font-size="12" letter-spacing="0.33" fill="#000" font-family="Liberation Sans, sans-serif">10</text>
<circle cx="204.3" cy="439.63" r="4.15" fill="#FF64B0"/>
<text x="219.20000000000002" y="443.78" font-size="12" letter-spacing="0.33" fill="#000" font-family="Liberation Sans, sans-serif">11</text>
<path d="M288.1,277 V432.8 H417.79999999999995" fill="none" stroke="#000" stroke-width="1.07" stroke-linecap="butt"/>
<line x1="312.00" y1="432.8" x2="312.00" y2="436.0" stroke="#000" stroke-width="1.07"/>
<text x="312.20" y="447.6" text-anchor="middle" font-size="12" letter-spacing="0.33" fill="#000" font-family="Liberation Sans, sans-serif">-10</text>
<line x1="342.65" y1="432.8" x2="342.65" y2="436.0" stroke="#000" stroke-width="1.07"/>
<text x="342.85" y="447.6" text-anchor="middle" font-size="12" letter-spacing="0.33" fill="#000" font-family="Liberation Sans, sans-serif">-5</text>
<line x1="373.30" y1="432.8" x2="373.30" y2="436.0" stroke="#000" stroke-width="1.07"/>
<text x="373.50" y="447.6" text-anchor="middle" font-size="12" letter-spacing="0.33" fill="#000" font-family="Liberation Sans, sans-serif">0</text>
<line x1="403.95" y1="432.8" x2="403.95" y2="436.0" stroke="#000" stroke-width="1.07"/>
<text x="404.15" y="447.6" text-anchor="middle" font-size="12" letter-spacing="0.33" fill="#000" font-family="Liberation Sans, sans-serif">5</text>
<line x1="284.5" y1="420.20" x2="288.1" y2="420.20" stroke="#000" stroke-width="1.07"/>
<text x="281.8" y="424.40" text-anchor="end" font-size="12" letter-spacing="0.33" fill="#000" font-family="Liberation Sans, sans-serif">-10</text>
<line x1="284.5" y1="388.35" x2="288.1" y2="388.35" stroke="#000" stroke-width="1.07"/>
<text x="281.8" y="392.55" text-anchor="end" font-size="12" letter-spacing="0.33" fill="#000" font-family="Liberation Sans, sans-serif">-5</text>
<line x1="284.5" y1="356.50" x2="288.1" y2="356.50" stroke="#000" stroke-width="1.07"/>
<text x="281.8" y="360.70" text-anchor="end" font-size="12" letter-spacing="0.33" fill="#000" font-family="Liberation Sans, sans-serif">0</text>
<line x1="284.5" y1="324.65" x2="288.1" y2="324.65" stroke="#000" stroke-width="1.07"/>
<text x="281.8" y="328.85" text-anchor="end" font-size="12" letter-spacing="0.33" fill="#000" font-family="Liberation Sans, sans-serif">5</text>
<line x1="284.5" y1="292.80" x2="288.1" y2="292.80" stroke="#000" stroke-width="1.07"/>
<text x="281.8" y="297.00" text-anchor="end" font-size="12" letter-spacing="0.33" fill="#000" font-family="Liberation Sans, sans-serif">10</text>
<text x="352.9" y="464.9" text-anchor="middle" font-size="14" letter-spacing="0.25" fill="#000" font-family="Liberation Sans, sans-serif">umap_1</text>
<text transform="translate(256.8,354.7) rotate(-90)" text-anchor="middle" font-size="14" letter-spacing="0.25" fill="#000" font-family="Liberation Sans, sans-serif">umap_2</text>
<text x="287.2" y="267.9" font-size="16" font-weight="bold" fill="#000" font-family="Liberation Sans, sans-serif">Resolution = 1.4</text>
<g filter="url(#rough)">
<path d="M350.89,299.25 C350.97,297.95 351.27,297.11 351.81,296.04 C352.34,294.97 353.26,293.83 354.10,292.83 C354.94,291.84 355.78,291.08 356.85,290.08 C357.92,289.09 359.45,287.79 360.52,286.87 C361.59,285.96 362.20,285.12 363.27,284.58 C364.33,284.05 365.79,283.79 366.93,283.67 C368.08,283.54 369.22,283.39 370.14,283.85 C371.06,284.31 371.44,285.84 372.43,286.42 C373.42,287.00 375.03,286.95 376.10,287.33 C377.17,287.71 377.78,288.40 378.85,288.71 C379.92,289.01 380.91,289.09 382.51,289.17 C384.12,289.24 387.40,288.40 388.47,289.17 C389.54,289.93 388.93,292.22 388.93,293.75 C388.93,295.28 388.47,296.96 388.47,298.33 C388.47,299.71 389.01,300.85 388.93,302.00 C388.85,303.14 388.62,304.44 388.01,305.21 C387.40,305.97 386.33,306.28 385.26,306.58 C384.19,306.89 382.59,306.58 381.60,307.04 C380.60,307.50 379.84,308.57 379.31,309.33 C378.77,310.09 378.92,310.78 378.39,311.62 C377.85,312.46 376.94,313.76 376.10,314.37 C375.26,314.98 374.26,315.29 373.35,315.29 C372.43,315.29 371.67,314.75 370.60,314.37 C369.53,313.99 368.00,313.30 366.93,313.00 C365.86,312.69 365.25,312.84 364.18,312.54 C363.11,312.23 361.74,311.55 360.52,311.16 C359.29,310.78 358.00,310.86 356.85,310.25 C355.70,309.64 354.56,308.57 353.64,307.50 C352.72,306.43 351.81,305.21 351.35,303.83 C350.89,302.46 350.82,300.55 350.89,299.25Z" fill="#F8766D" stroke="#F8766D" stroke-width="1" stroke-linejoin="round"/>
<polygon points="345.00,285.00 355.00,289.00 362.50,294.20 364.50,301.00 362.50,306.70 360.00,312.00 345.00,312.00" fill="#D39200" clip-path="url(#c8)"/>
<polygon points="379.50,280.00 379.20,289.20 378.75,295.00 377.50,301.70 378.30,308.30 380.00,315.00 395.00,315.00 395.00,280.00" fill="#00ADFA" clip-path="url(#c8)"/>
<polygon points="360.00,306.00 362.50,305.00 366.70,302.90 375.00,304.20 378.30,308.30 380.00,316.00 360.00,316.00" fill="#00B9E3" clip-path="url(#c8)"/>
<path d="M391.60,310.00 C391.91,309.27 392.75,309.17 393.48,308.75 C394.20,308.33 395.30,308.02 395.98,307.50 C396.65,306.98 396.91,306.25 397.54,305.62 C398.16,305.00 398.84,304.22 399.73,303.75 C400.61,303.28 401.91,302.92 402.85,302.81 C403.79,302.71 404.67,302.76 405.35,303.12 C406.03,303.49 406.60,304.17 406.91,305.00 C407.23,305.83 407.28,307.24 407.23,308.12 C407.17,309.01 406.39,309.74 406.60,310.31 C406.81,310.89 407.85,311.09 408.48,311.56 C409.10,312.03 409.73,312.45 410.35,313.12 C410.98,313.80 411.91,314.79 412.23,315.62 C412.54,316.46 412.54,317.29 412.23,318.12 C411.91,318.96 411.08,319.90 410.35,320.62 C409.62,321.35 408.68,321.88 407.85,322.50 C407.02,323.12 406.39,323.70 405.35,324.38 C404.31,325.05 402.64,326.41 401.60,326.56 C400.56,326.72 400.04,325.89 399.10,325.31 C398.16,324.74 396.81,323.91 395.98,323.12 C395.14,322.34 394.52,321.51 394.10,320.62 C393.68,319.74 393.79,318.65 393.48,317.81 C393.16,316.98 392.54,316.41 392.23,315.62 C391.91,314.84 391.70,314.06 391.60,313.12 C391.50,312.19 391.29,310.73 391.60,310.00Z" fill="#DB72FB" stroke="#DB72FB" stroke-width="1" stroke-linejoin="round"/>
<polygon points="388.00,300.00 415.00,300.00 415.00,309.00 405.00,311.00 395.00,314.00 388.00,316.00" fill="#619CFF" clip-path="url(#c9)"/>
<polygon points="403.00,311.00 415.00,308.00 415.00,330.00 403.00,330.00" fill="#F564E3" clip-path="url(#c9)"/>
<path d="M294.60,357.25 C294.86,356.26 295.23,355.58 295.85,355.06 C296.48,354.54 297.41,354.23 298.35,354.12 C299.29,354.02 300.64,354.12 301.48,354.44 C302.31,354.75 302.67,355.43 303.35,356.00 C304.03,356.57 305.02,357.15 305.54,357.88 C306.06,358.60 306.37,359.33 306.48,360.38 C306.58,361.42 306.48,363.08 306.16,364.12 C305.85,365.17 305.28,366.05 304.60,366.62 C303.92,367.20 303.14,367.35 302.10,367.56 C301.06,367.77 299.60,367.88 298.35,367.88 C297.10,367.88 295.54,367.98 294.60,367.56 C293.66,367.15 292.99,366.16 292.73,365.38 C292.46,364.59 292.78,363.60 293.04,362.88 C293.30,362.15 294.03,361.94 294.29,361.00 C294.55,360.06 294.34,358.24 294.60,357.25Z" fill="#5EB300" stroke="#5EB300" stroke-width="1" stroke-linejoin="round"/>
<path d="M333.10,385.83 C333.24,384.65 333.66,383.75 334.35,382.92 C335.04,382.08 336.09,381.39 337.27,380.83 C338.45,380.28 340.04,380.00 341.43,379.58 C342.82,379.17 344.35,378.68 345.60,378.33 C346.85,377.99 347.89,377.92 348.93,377.50 C349.98,377.08 351.16,376.39 351.85,375.83 C352.54,375.28 352.68,374.03 353.10,374.17 C353.52,374.31 354.00,375.83 354.35,376.67 C354.70,377.50 354.84,378.33 355.18,379.17 C355.53,380.00 355.95,380.83 356.43,381.67 C356.92,382.50 357.48,383.40 358.10,384.17 C358.73,384.93 359.42,385.35 360.18,386.25 C360.95,387.15 362.34,388.68 362.68,389.58 C363.03,390.49 362.75,391.04 362.27,391.67 C361.78,392.29 360.74,392.78 359.77,393.33 C358.79,393.89 357.68,394.44 356.43,395.00 C355.18,395.56 353.52,396.46 352.27,396.67 C351.02,396.87 350.04,396.53 348.93,396.25 C347.82,395.97 346.99,395.49 345.60,395.00 C344.21,394.51 342.13,393.82 340.60,393.33 C339.07,392.85 337.61,392.64 336.43,392.08 C335.25,391.53 334.07,391.04 333.52,390.00 C332.96,388.96 332.96,387.01 333.10,385.83Z" fill="#00BA38" stroke="#00BA38" stroke-width="1" stroke-linejoin="round"/>
<polygon points="335.00,400.00 339.30,391.50 346.00,389.20 351.00,385.80 355.20,382.90 358.50,382.50 361.40,384.20 370.00,386.00 370.00,400.00" fill="#00C19F" clip-path="url(#c10)"/>
<path d="M354.66,361.25 C354.77,360.52 355.24,359.64 355.60,358.75 C355.96,357.86 356.49,356.72 356.85,355.94 C357.21,355.16 357.27,354.43 357.79,354.06 C358.31,353.70 359.25,353.70 359.98,353.75 C360.70,353.80 361.59,354.01 362.16,354.38 C362.74,354.74 363.05,355.21 363.41,355.94 C363.78,356.67 363.99,357.86 364.35,358.75 C364.71,359.64 365.18,360.42 365.60,361.25 C366.02,362.08 366.54,362.92 366.85,363.75 C367.16,364.58 367.27,365.42 367.48,366.25 C367.68,367.08 367.79,367.92 368.10,368.75 C368.41,369.58 368.83,370.62 369.35,371.25 C369.87,371.88 370.39,372.19 371.23,372.50 C372.06,372.81 373.52,372.81 374.35,373.12 C375.18,373.44 376.02,373.85 376.23,374.38 C376.43,374.90 376.12,376.04 375.60,376.25 C375.08,376.46 374.04,375.89 373.10,375.62 C372.16,375.36 371.02,374.90 369.98,374.69 C368.93,374.48 367.79,374.32 366.85,374.38 C365.91,374.43 364.98,374.79 364.35,375.00 C363.73,375.21 363.62,375.73 363.10,375.62 C362.58,375.52 362.06,374.79 361.23,374.38 C360.39,373.96 358.88,373.54 358.10,373.12 C357.32,372.71 356.64,372.40 356.54,371.88 C356.43,371.35 357.11,370.62 357.48,370.00 C357.84,369.38 358.52,368.96 358.73,368.12 C358.93,367.29 359.04,365.73 358.73,365.00 C358.41,364.27 357.48,364.06 356.85,363.75 C356.23,363.44 355.34,363.54 354.98,363.12 C354.61,362.71 354.56,361.98 354.66,361.25Z" fill="#AE87FF" stroke="#AE87FF" stroke-width="1" stroke-linejoin="round"/>
<polygon points="350.00,373.00 356.60,370.50 359.10,369.00 363.50,368.40 366.60,367.00 369.75,367.50 380.00,368.00 380.00,380.00 350.00,380.00" fill="#FF61C3" clip-path="url(#c11)"/>
<path d="M374.16,382.17 C374.10,381.38 374.49,380.06 374.95,379.00 C375.42,377.95 376.67,376.89 376.93,375.84 C377.20,374.78 376.27,373.72 376.54,372.67 C376.80,371.61 378.25,370.36 378.52,369.50 C378.78,368.64 377.73,367.92 378.12,367.52 C378.52,367.13 379.77,367.13 380.89,367.13 C382.01,367.13 383.66,367.39 384.85,367.52 C386.04,367.65 386.96,367.98 388.02,367.92 C389.07,367.85 390.13,367.65 391.19,367.13 C392.24,366.60 393.30,365.28 394.35,364.75 C395.41,364.22 396.53,363.83 397.52,363.96 C398.51,364.09 399.57,364.62 400.29,365.54 C401.02,366.47 401.48,368.18 401.87,369.50 C402.27,370.82 402.73,372.01 402.67,373.46 C402.60,374.91 402.07,376.89 401.48,378.21 C400.89,379.53 399.96,380.45 399.10,381.38 C398.25,382.30 396.73,382.96 396.33,383.75 C395.94,384.54 396.73,385.20 396.73,386.13 C396.73,387.05 396.60,388.11 396.33,389.30 C396.07,390.48 395.87,392.26 395.14,393.25 C394.42,394.24 393.03,395.10 391.98,395.23 C390.92,395.37 389.73,394.71 388.81,394.05 C387.89,393.39 387.16,392.20 386.44,391.27 C385.71,390.35 385.25,389.30 384.46,388.50 C383.66,387.71 382.67,387.05 381.68,386.52 C380.70,386.00 379.57,385.80 378.52,385.34 C377.46,384.87 376.08,384.28 375.35,383.75 C374.62,383.23 374.23,382.96 374.16,382.17Z" fill="#E88526" stroke="#E88526" stroke-width="1" stroke-linejoin="round"/>
<polygon points="394.00,362.00 410.00,362.00 410.00,385.00 398.30,380.40 395.70,379.80 394.75,375.40 391.70,372.80 389.20,371.10 388.00,369.10 390.40,367.50 392.80,365.50 394.00,364.30" fill="#00BFC4" clip-path="url(#c12)"/>
<path d="M387.43,394.25 C387.66,393.03 389.19,392.80 390.64,392.42 C392.09,392.03 394.92,391.50 396.14,391.96 C397.36,392.42 397.59,394.02 397.97,395.17 C398.35,396.31 397.90,397.92 398.43,398.83 C398.97,399.75 400.11,400.05 401.18,400.67 C402.25,401.28 403.63,401.89 404.85,402.50 C406.07,403.11 407.44,403.57 408.51,404.33 C409.58,405.10 410.65,405.86 411.26,407.08 C411.87,408.30 412.10,409.98 412.18,411.66 C412.26,413.34 412.03,415.48 411.72,417.16 C411.42,418.84 411.19,420.52 410.35,421.75 C409.51,422.97 408.06,423.73 406.68,424.50 C405.31,425.26 403.78,426.02 402.10,426.33 C400.42,426.64 398.13,426.56 396.60,426.33 C395.07,426.10 394.15,425.11 392.93,424.96 C391.71,424.80 390.64,425.49 389.27,425.41 C387.89,425.34 385.90,425.11 384.68,424.50 C383.46,423.89 382.70,422.97 381.93,421.75 C381.17,420.52 380.56,418.84 380.10,417.16 C379.64,415.48 379.11,413.34 379.18,411.66 C379.26,409.98 379.79,408.00 380.56,407.08 C381.32,406.16 382.77,406.32 383.77,406.16 C384.76,406.01 385.75,406.62 386.52,406.16 C387.28,405.71 387.89,404.48 388.35,403.42 C388.81,402.35 389.42,401.28 389.27,399.75 C389.11,398.22 387.20,395.47 387.43,394.25Z" fill="#B79F00" stroke="#B79F00" stroke-width="1" stroke-linejoin="round"/>
<polygon points="401.50,395.00 401.90,399.25 403.10,404.25 402.50,410.50 400.60,415.50 396.90,418.60 392.50,420.50 385.00,422.00 385.00,435.00 420.00,435.00 420.00,395.00" fill="#93AA00" clip-path="url(#c13)"/>
<polygon points="375.00,405.00 385.00,405.00 390.00,406.80 392.50,411.00 393.30,417.70 392.50,422.70 389.20,425.20 375.00,430.00" fill="#00BF74" clip-path="url(#c13)"/>
</g>
<circle cx="360.10" cy="311.60" r="1.2" fill="#E88526"/>
<circle cx="372.90" cy="314.40" r="1.1" fill="#E88526"/>
<circle cx="377.60" cy="311.00" r="1.1" fill="#E88526"/>
<circle cx="377.20" cy="313.00" r="1.1" fill="#E88526"/>
<circle cx="376.80" cy="315.00" r="1.1" fill="#E88526"/>
<circle cx="391.00" cy="309.10" r="1.2" fill="#F8766D"/>
<circle cx="395.00" cy="307.80" r="1.2" fill="#F8766D"/>
<circle cx="392.60" cy="315.00" r="1" fill="#E88526"/>
<circle cx="393.50" cy="316.60" r="1" fill="#E88526"/>
<circle cx="361.85" cy="386.25" r="1.1" fill="#E88526"/>
<circle cx="358.90" cy="390.40" r="1.1" fill="#E88526"/>
<circle cx="361.60" cy="390.80" r="1.1" fill="#E88526"/>
<circle cx="364.80" cy="390.80" r="1.1" fill="#E88526"/>
<circle cx="365.60" cy="387.70" r="1.1" fill="#00BA38"/>
<circle cx="337.60" cy="380.40" r="1" fill="#5EB300"/>
<circle cx="355.60" cy="376.25" r="1.2" fill="#AE87FF"/>
<circle cx="363.70" cy="356.25" r="1.1" fill="#E88526"/>
<circle cx="367.50" cy="367.20" r="1.8" fill="#E88526"/>
<circle cx="370.00" cy="371.60" r="1.1" fill="#E88526"/>
<circle cx="371.10" cy="372.50" r="1.1" fill="#E88526"/>
<circle cx="372.50" cy="373.75" r="1.1" fill="#E88526"/>
<circle cx="384.10" cy="389.30" r="1.1" fill="#B79F00"/>
<circle cx="388.35" cy="396.00" r="1.1" fill="#E88526"/>
<circle cx="401.20" cy="400.70" r="1.1" fill="#E88526"/>
<circle cx="404.85" cy="403.00" r="1.2" fill="#E88526"/>
<circle cx="304.70" cy="367.25" r="1.6" fill="#B79F00"/>
<circle cx="298.35" cy="368.40" r="1" fill="#E88526"/>
<circle cx="306.50" cy="359.10" r="1" fill="#F8766D"/>
<text x="370.00" y="298.90" text-anchor="middle" font-size="11.4" fill="#000" font-family="Liberation Sans, sans-serif">0</text>
<text x="385.00" y="299.90" text-anchor="middle" font-size="11.4" fill="#000" font-family="Liberation Sans, sans-serif">11</text>
<text x="358.00" y="304.40" text-anchor="middle" font-size="11.4" fill="#000" font-family="Liberation Sans, sans-serif">2</text>
<text x="375.50" y="306.50" text-anchor="middle" font-size="11.4" fill="#000" font-family="Liberation Sans, sans-serif">17</text>
<text x="373.50" y="311.90" text-anchor="middle" font-size="11.4" fill="#000" font-family="Liberation Sans, sans-serif">10</text>
<text x="402.20" y="312.30" text-anchor="middle" font-size="11.4" fill="#000" font-family="Liberation Sans, sans-serif">12</text>
<text x="408.40" y="320.65" text-anchor="middle" font-size="11.4" fill="#000" font-family="Liberation Sans, sans-serif">15</text>
<text x="400.90" y="325.80" text-anchor="middle" font-size="11.4" fill="#000" font-family="Liberation Sans, sans-serif">14</text>
<text x="360.80" y="364.10" text-anchor="middle" font-size="11.4" fill="#000" font-family="Liberation Sans, sans-serif">13</text>
<text x="369.70" y="378.20" text-anchor="middle" font-size="11.4" fill="#000" font-family="Liberation Sans, sans-serif">16</text>
<text x="397.10" y="375.00" text-anchor="middle" font-size="11.4" fill="#000" font-family="Liberation Sans, sans-serif">9</text>
<text x="387.20" y="383.00" text-anchor="middle" font-size="11.4" fill="#000" font-family="Liberation Sans, sans-serif">1</text>
<text x="398.40" y="413.80" text-anchor="middle" font-size="11.4" fill="#000" font-family="Liberation Sans, sans-serif">3</text>
<text x="404.10" y="421.90" text-anchor="middle" font-size="11.4" fill="#000" font-family="Liberation Sans, sans-serif">4</text>
<text x="385.00" y="420.70" text-anchor="middle" font-size="11.4" fill="#000" font-family="Liberation Sans, sans-serif">7</text>
<text x="300.00" y="366.20" text-anchor="middle" font-size="11.4" fill="#000" font-family="Liberation Sans, sans-serif">5</text>
<text x="342.20" y="388.20" text-anchor="middle" font-size="11.4" fill="#000" font-family="Liberation Sans, sans-serif">6</text>
<text x="354.40" y="394.80" text-anchor="middle" font-size="11.4" fill="#000" font-family="Liberation Sans, sans-serif">8</text>
<circle cx="438.9" cy="225.00" r="4.15" fill="#F8766D"/>
<text x="453.79999999999995" y="229.15" font-size="12" letter-spacing="0.33" fill="#000" font-family="Liberation Sans, sans-serif">0</text>
<circle cx="438.9" cy="240.33" r="4.15" fill="#E88526"/>
<text x="453.79999999999995" y="244.48" font-size="12" letter-spacing="0.33" fill="#000" font-family="Liberation Sans, sans-serif">1</text>
<circle cx="438.9" cy="255.66" r="4.15" fill="#D39200"/>
<text x="453.79999999999995" y="259.81" font-size="12" letter-spacing="0.33" fill="#000" font-family="Liberation Sans, sans-serif">2</text>
<circle cx="438.9" cy="270.99" r="4.15" fill="#B79F00"/>
<text x="453.79999999999995" y="275.14" font-size="12" letter-spacing="0.33" fill="#000" font-family="Liberation Sans, sans-serif">3</text>
<circle cx="438.9" cy="286.32" r="4.15" fill="#93AA00"/>
<text x="453.79999999999995" y="290.47" font-size="12" letter-spacing="0.33" fill="#000" font-family="Liberation Sans, sans-serif">4</text>
<circle cx="438.9" cy="301.65" r="4.15" fill="#5EB300"/>
<text x="453.79999999999995" y="305.80" font-size="12" letter-spacing="0.33" fill="#000" font-family="Liberation Sans, sans-serif">5</text>
<circle cx="438.9" cy="316.98" r="4.15" fill="#00BA38"/>
<text x="453.79999999999995" y="321.13" font-size="12" letter-spacing="0.33" fill="#000" font-family="Liberation Sans, sans-serif">6</text>
<circle cx="438.9" cy="332.31" r="4.15" fill="#00BF74"/>
<text x="453.79999999999995" y="336.46" font-size="12" letter-spacing="0.33" fill="#000" font-family="Liberation Sans, sans-serif">7</text>
<circle cx="438.9" cy="347.64" r="4.15" fill="#00C19F"/>
<text x="453.79999999999995" y="351.79" font-size="12" letter-spacing="0.33" fill="#000" font-family="Liberation Sans, sans-serif">8</text>
<circle cx="438.9" cy="362.97" r="4.15" fill="#00BFC4"/>
<text x="453.79999999999995" y="367.12" font-size="12" letter-spacing="0.33" fill="#000" font-family="Liberation Sans, sans-serif">9</text>
<circle cx="438.9" cy="378.30" r="4.15" fill="#00B9E3"/>
<text x="453.79999999999995" y="382.45" font-size="12" letter-spacing="0.33" fill="#000" font-family="Liberation Sans, sans-serif">10</text>
<circle cx="438.9" cy="393.63" r="4.15" fill="#00ADFA"/>
<text x="453.79999999999995" y="397.78" font-size="12" letter-spacing="0.33" fill="#000" font-family="Liberation Sans, sans-serif">11</text>
<circle cx="438.9" cy="408.96" r="4.15" fill="#619CFF"/>
<text x="453.79999999999995" y="413.11" font-size="12" letter-spacing="0.33" fill="#000" font-family="Liberation Sans, sans-serif">12</text>
<circle cx="438.9" cy="424.29" r="4.15" fill="#AE87FF"/>
<text x="453.79999999999995" y="428.44" font-size="12" letter-spacing="0.33" fill="#000" font-family="Liberation Sans, sans-serif">13</text>
<circle cx="438.9" cy="439.62" r="4.15" fill="#DB72FB"/>
<text x="453.79999999999995" y="443.77" font-size="12" letter-spacing="0.33" fill="#000" font-family="Liberation Sans, sans-serif">14</text>
<circle cx="438.9" cy="454.95" r="4.15" fill="#F564E3"/>
<text x="453.79999999999995" y="459.10" font-size="12" letter-spacing="0.33" fill="#000" font-family="Liberation Sans, sans-serif">15</text>
<circle cx="438.9" cy="470.28" r="4.15" fill="#FF61C3"/>
<text x="453.79999999999995" y="474.43" font-size="12" letter-spacing="0.33" fill="#000" font-family="Liberation Sans, sans-serif">16</text>
<circle cx="438.9" cy="485.61" r="4.15" fill="#FF699C"/>
<text x="453.79999999999995" y="489.76" font-size="12" letter-spacing="0.33" fill="#000" font-family="Liberation Sans, sans-serif">17</text>
</svg></body></html>
